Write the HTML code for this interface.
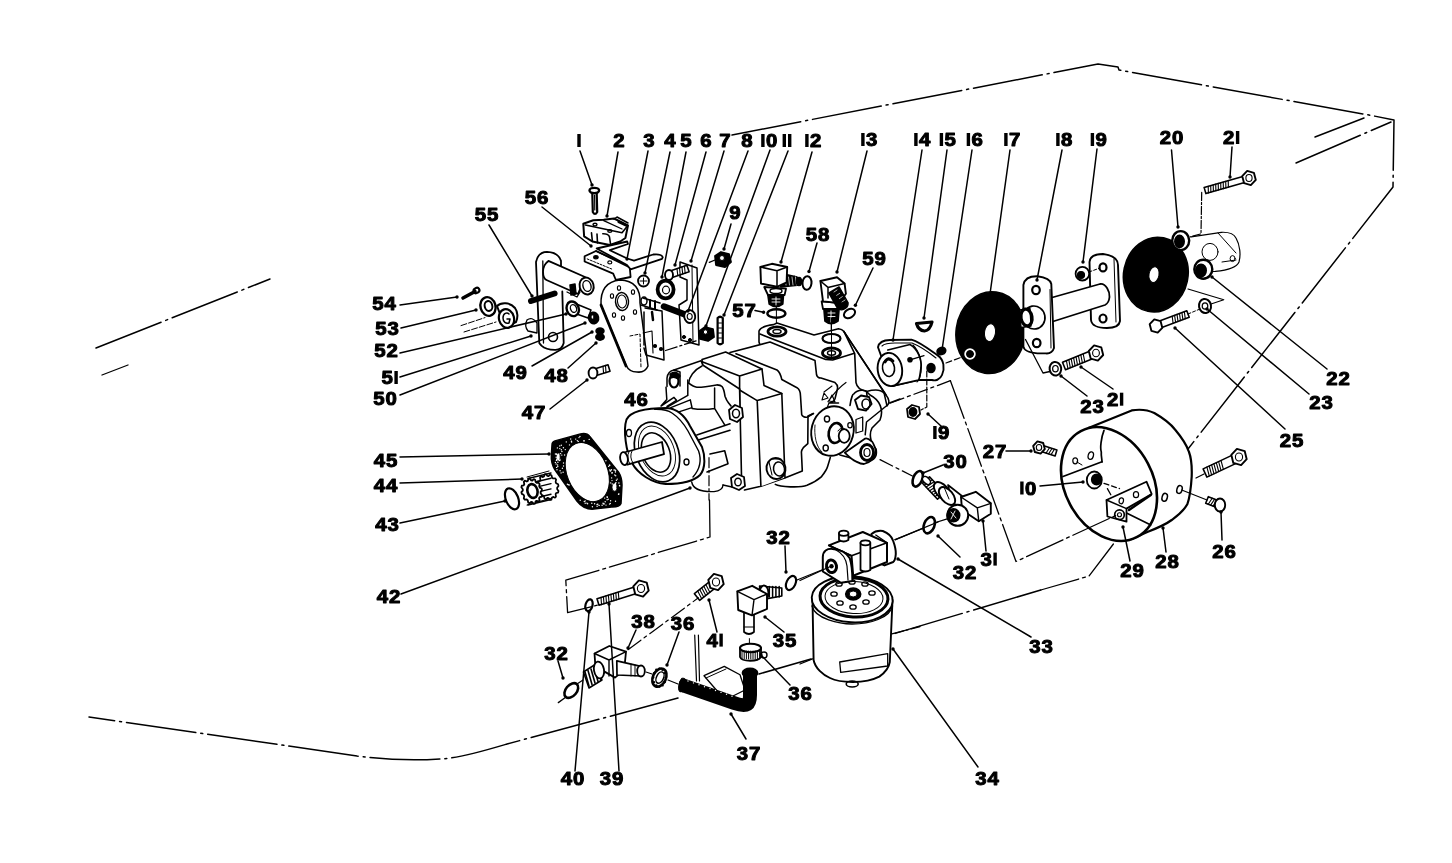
<!DOCTYPE html>
<html><head><meta charset="utf-8"><style>
html,body{margin:0;padding:0;background:#fff;overflow:hidden;}
svg{display:block;will-change:transform;}
text{font-family:"Liberation Sans",sans-serif;font-weight:bold;fill:#000;}
</style></head><body>
<svg width="1452" height="863" viewBox="0 0 1452 863">
<rect width="1452" height="863" fill="#fff"/>
<g stroke="#000" fill="none" stroke-linecap="round" stroke-linejoin="round">
<path d="M732,135 L1098,64 L1118,67 L1119,70 L1369,115 L1394,120 L1393,187 L1188,449" stroke-width="1.5" fill="none" stroke-dasharray="70 5 2 5"/>
<path d="M1040.8,590 L893,634" stroke-width="1.5" fill="none" stroke-dasharray="70 5 2 5"/>
<path d="M811,659 L759,674" stroke-width="1.5" fill="none" stroke-dasharray="70 5 2 5"/>
<path d="M678,698 L507,744 C480,752 460,758 440,759 C410,761 390,760 357,756 L89,717" stroke-width="1.5" fill="none" stroke-dasharray="70 5 2 5"/>
<path d="M96,348 L270,279" stroke-width="1.5" fill="none" stroke-dasharray="70 5 2 5"/>
<line x1="102" y1="375" x2="128" y2="365" stroke-width="1.3"/>
<path d="M1315,137 L1364,118" stroke-width="1.5" fill="none" stroke-dasharray="70 5 2 5"/>
<path d="M1296,163 L1391,122" stroke-width="1.5" fill="none" stroke-dasharray="70 5 2 5"/>
<path d="M592.3,193 L592.8,212 Q595,216 597.2,212 L596.7,193 Z" stroke-width="2.2" fill="#fff" />
<line x1="594.6" y1="195" x2="594.8" y2="210" stroke-width="1.2"/>
<ellipse cx="594.3" cy="190.5" rx="4.8" ry="2.6" transform="rotate(0 594.3 190.5)" stroke-width="2.4" fill="#fff"/>
<path d="M584.6,256.3 L596,251 L627.2,265 C629,266 630,267 629.8,268 L630.6,277 L615.9,280 L613.2,273.7 L584.6,261.5 Z" stroke-width="1.8" fill="#fff" />
<path d="M587.2,258.9 L612.4,269.3" stroke-width="1.0" fill="none" stroke-dasharray="2 1.5"/>
<path d="M596,251 L629.8,267.6" stroke-width="1.5" fill="none" />
<ellipse cx="595.9" cy="257.2" rx="2.2" ry="1.6" transform="rotate(0 595.9 257.2)" stroke-width="1.2" fill="#000"/>
<ellipse cx="609.8" cy="262.4" rx="2" ry="1.5" transform="rotate(0 609.8 262.4)" stroke-width="1.2" fill="none"/>
<path d="M596.7,248.5 L627.2,241.5 L628,244 L609.8,250.2 L627.2,258.5 L634,260.6 L653.2,254.5 C658,254 662,255 662.8,257.2 L662,258.9 L630.6,269.3 L627,265 Z" stroke-width="1.8" fill="#fff" />
<path d="M583.3,223.7 L593.3,220.2 L603.7,219.8 L614,218.5 L628,225.4 L625.4,238 L620.2,241.5 L609.8,245 L592.4,241.5 L584.1,236.3 Z" stroke-width="2.0" fill="#fff" />
<path d="M585.4,225 L622,232.8 L627.5,226" stroke-width="1.6" fill="none" />
<path d="M603.7,220.6 L622,229" stroke-width="1.3" fill="none" />
<path d="M591.5,232.8 L592.4,241.5 M597,234 L597.5,243 M602.8,233.7 C606,233.5 609,235 609.5,237 L610.6,244.5" stroke-width="1.6" fill="none" />
<path d="M614,219 L617,217 L628,223" stroke-width="1.5" fill="none" />
<path d="M618.5,222 L626,225.5" stroke-width="2.2" fill="none" />
<ellipse cx="595" cy="224.6" rx="2" ry="1.3" transform="rotate(0 595 224.6)" stroke-width="1.4" fill="none"/>
<ellipse cx="609.8" cy="231" rx="2" ry="1.3" transform="rotate(0 609.8 231)" stroke-width="1.4" fill="none"/>
<path d="M536,262 Q538,252 547,251.8 Q558,252 561,260.9 L561,268 M562.3,291.5 L563.7,343 Q562,350 555.3,349.9 Q546,350 541.4,345.7 Q539,343 539.3,343 L536,262" stroke-width="1.8" fill="#fff" />
<path d="M542.8,261 L543.5,343" stroke-width="1.3" fill="none" />
<ellipse cx="553" cy="337" rx="4.5" ry="4.5" transform="rotate(0 553 337)" stroke-width="1.6" fill="none"/>
<path d="M548.4,260.9 L585,277 L578,294 L547,280.3 C542,278 541,266 548.4,260.9 Z" stroke-width="1.8" fill="#fff" />
<ellipse cx="586.6" cy="286" rx="7" ry="8.5" transform="rotate(-15 586.6 286)" stroke-width="1.9" fill="#fff"/>
<ellipse cx="587" cy="286" rx="4" ry="5.5" transform="rotate(-15 587 286)" stroke-width="1.4" fill="none"/>
<path d="M570,285 L575,284 L576,294 L571,295 Z" stroke-width="1.5" fill="#000" />
<path d="M567,292 L577,297 L580,292" stroke-width="1.3" fill="none" />
<path d="M601,305 Q600,282 620,280 Q641,281 640,303 L648,366 Q645,373 637,372 Q629,372 626,365 Z" stroke-width="1.5" fill="none" />
<path d="M601,305 L626,366" stroke-width="2.8" fill="none" />
<ellipse cx="622" cy="301.5" rx="6.5" ry="9" transform="rotate(-5 622 301.5)" stroke-width="1.5" fill="none"/>
<ellipse cx="622" cy="301.5" rx="4.5" ry="6.5" transform="rotate(-5 622 301.5)" stroke-width="1.1" fill="none"/>
<ellipse cx="619" cy="288" rx="1.6" ry="2.3" transform="rotate(0 619 288)" stroke-width="1.1" fill="none"/>
<ellipse cx="633" cy="292" rx="1.6" ry="2.3" transform="rotate(0 633 292)" stroke-width="1.1" fill="none"/>
<ellipse cx="635" cy="312" rx="1.6" ry="2.3" transform="rotate(0 635 312)" stroke-width="1.1" fill="none"/>
<ellipse cx="612" cy="296" rx="1.6" ry="2.3" transform="rotate(0 612 296)" stroke-width="1.1" fill="none"/>
<ellipse cx="614" cy="315" rx="1.6" ry="2.3" transform="rotate(0 614 315)" stroke-width="1.1" fill="none"/>
<ellipse cx="623" cy="318" rx="1.6" ry="2.3" transform="rotate(0 623 318)" stroke-width="1.1" fill="none"/>
<path d="M630,336 L640,334 L641,368" stroke-width="1.0" fill="none" stroke-dasharray="3 2"/>
<path d="M645,308 L662,311 L664,360 L646,355 L644,348 M644,312 L644,345" stroke-width="1.5" fill="none" />
<path d="M652,312 L653,320" stroke-width="2.5" fill="none" />
<ellipse cx="661" cy="349" rx="1.5" ry="1.5" transform="rotate(0 661 349)" stroke-width="1.2" fill="#000"/>
<ellipse cx="655" cy="346" rx="1.5" ry="1.5" transform="rotate(0 655 346)" stroke-width="1.2" fill="#000"/>
<path d="M643,333 L652,331 L653,353" stroke-width="1.1" fill="none" />
<path d="M680,262 L697,268 L699,345 L681,340 L679,305 L687,300 L687,280 L680,277 Z" stroke-width="1.5" fill="none" />
<path d="M692,265 L693,343" stroke-width="1.0" fill="none" />
<ellipse cx="684" cy="337" rx="1.6" ry="1.6" transform="rotate(0 684 337)" stroke-width="1" fill="#000"/>
<ellipse cx="690" cy="340" rx="1.6" ry="1.6" transform="rotate(0 690 340)" stroke-width="1" fill="#000"/>
<ellipse cx="643.5" cy="281" rx="5.5" ry="5.5" transform="rotate(0 643.5 281)" stroke-width="1.8" fill="none"/>
<path d="M640,281 L647,281 M643.5,278 L643.5,284" stroke-width="1" fill="none" />
<ellipse cx="665.6" cy="289.5" rx="8" ry="8.8" transform="rotate(0 665.6 289.5)" stroke-width="3.8" fill="none"/>
<ellipse cx="666" cy="290" rx="3.5" ry="3.8" transform="rotate(0 666 290)" stroke-width="1.2" fill="none"/>
<path d="M686.9,265.2 L667.9,271.7 L670.1,278.3 L689.1,271.8 Z" stroke-width="1.6" fill="#fff"/>
<line x1="684.4" y1="266.0" x2="685.2" y2="273.2" stroke-width="1.1"/>
<line x1="681.9" y1="266.9" x2="682.7" y2="274.0" stroke-width="1.1"/>
<line x1="679.5" y1="267.7" x2="680.2" y2="274.9" stroke-width="1.1"/>
<line x1="677.0" y1="268.6" x2="677.8" y2="275.7" stroke-width="1.1"/>
<ellipse cx="669.0" cy="275.0" rx="4.0" ry="5.0" stroke-width="1.9" fill="#fff"/>
<path d="M643,298 L660,303 M641,305 L657,310" stroke-width="1.5" fill="none" />
<ellipse cx="644" cy="301" rx="3" ry="4" transform="rotate(0 644 301)" stroke-width="1.5" fill="none"/>
<path d="M650,300 L650,307 M655,301 L655,309" stroke-width="2" fill="none" />
<path d="M664,306.5 L685,314.5" stroke-width="6.5" fill="none" />
<ellipse cx="689.7" cy="316.5" rx="5.5" ry="6.5" transform="rotate(-10 689.7 316.5)" stroke-width="1.9" fill="#fff"/>
<ellipse cx="689.7" cy="316.5" rx="2.5" ry="3" transform="rotate(0 689.7 316.5)" stroke-width="1.1" fill="none"/>
<path d="M715,256 L721,252 L729,254 L731,262 L725,267 L716,265 Z" stroke-width="1.8" fill="#000" />
<ellipse cx="722" cy="258" rx="2.5" ry="2.5" transform="rotate(0 722 258)" stroke-width="1" fill="#fff"/>
<path d="M709.3,262.4 L715,260" stroke-width="1.2" fill="none" />
<path d="M699.5,331 L705,327 L713,329 L714,337 L708,341 L700,339 Z" stroke-width="1.8" fill="#000" />
<ellipse cx="705.5" cy="332" rx="2.2" ry="2.2" transform="rotate(0 705.5 332)" stroke-width="1" fill="#fff"/>
<path d="M717.6,318 L717.6,343 Q720,345.5 722.8,343 L722.8,318 Q720,315.5 717.6,318 Z" stroke-width="2.2" fill="#fff" />
<line x1="718.5" y1="323" x2="721.5" y2="323" stroke-width="1.0"/>
<line x1="718.5" y1="328" x2="721.5" y2="328" stroke-width="1.0"/>
<line x1="718.5" y1="333" x2="721.5" y2="333" stroke-width="1.0"/>
<line x1="718.5" y1="338" x2="721.5" y2="338" stroke-width="1.0"/>
<path d="M531,301 L554.6,293.5" stroke-width="6" fill="none" />
<path d="M463,298 L475,291.5" stroke-width="3.6" fill="none" />
<ellipse cx="476.5" cy="290.5" rx="3" ry="2.5" transform="rotate(-30 476.5 290.5)" stroke-width="2.2" fill="none"/>
<ellipse cx="488" cy="306.5" rx="7.5" ry="9.5" transform="rotate(-15 488 306.5)" stroke-width="2.4" fill="#fff"/>
<ellipse cx="488.5" cy="306" rx="3.8" ry="5" transform="rotate(-15 488.5 306)" stroke-width="2.0" fill="none"/>
<path d="M497,306 C501,302 510,302 515,308 C518,312 518,318 516,322 L505,327 Z" stroke-width="2.0" fill="#fff" />
<ellipse cx="506.5" cy="318.5" rx="7.5" ry="9.5" transform="rotate(-15 506.5 318.5)" stroke-width="2.2" fill="#fff"/>
<path d="M503,318 C503,313 507,312 509,314 M503,318 C503,322 506,324 509,323 L510,319 L507,319" stroke-width="1.5" fill="none" />
<path d="M461,325.6 L485,317.6 M464,332 L496,322" stroke-width="1.0" fill="none" stroke-dasharray="6 2"/>
<path d="M574,303 L591,310 L588,318 L571,312 Z" stroke-width="1.5" fill="#fff" />
<ellipse cx="572.7" cy="308.8" rx="6" ry="7.5" transform="rotate(-20 572.7 308.8)" stroke-width="2.4" fill="#fff"/>
<ellipse cx="573.5" cy="308.5" rx="3" ry="4" transform="rotate(-20 573.5 308.5)" stroke-width="1.3" fill="none"/>
<ellipse cx="593.6" cy="318" rx="5" ry="5.8" transform="rotate(-10 593.6 318)" stroke-width="1.5" fill="#000"/>
<ellipse cx="592.5" cy="317" rx="1.5" ry="2" transform="rotate(0 592.5 317)" stroke-width="1" fill="#fff"/>
<ellipse cx="600" cy="331" rx="4" ry="3" transform="rotate(0 600 331)" stroke-width="1.5" fill="#000"/>
<ellipse cx="600" cy="337" rx="4.2" ry="3.2" transform="rotate(0 600 337)" stroke-width="1.5" fill="#000"/>
<path d="M527,320 Q532,316 537,323 L537,333 L528,331 Q524,326 527,320" stroke-width="1.3" fill="none" />
<path d="M608.0,364.7 L592.0,369.7 L594.0,376.3 L610.0,371.3 Z" stroke-width="1.6" fill="#fff"/>
<line x1="605.5" y1="365.4" x2="606.0" y2="372.6" stroke-width="1.1"/>
<line x1="603.0" y1="366.2" x2="603.6" y2="373.4" stroke-width="1.1"/>
<ellipse cx="593.0" cy="373.0" rx="4.4" ry="5.5" stroke-width="1.9" fill="#fff"/>
<line x1="776.4" y1="305" x2="776.4" y2="328" stroke-width="1.0"/>
<line x1="831.2" y1="321" x2="831.2" y2="340" stroke-width="1.0"/>
<path d="M768,295 L783.4,295 L782.7,304 Q776,309 769.3,304 Z" stroke-width="1.8" fill="#000" />
<path d="M772,299 L780,299 M772,302 L780,302 M776,297 L776,305" stroke-width="0.9" fill="none" stroke="#fff"/>
<path d="M764.2,287 L786,288.7 L784.6,295 L768,295 Z" stroke-width="1.8" fill="#fff" />
<ellipse cx="776" cy="291" rx="6" ry="2.5" transform="rotate(0 776 291)" stroke-width="1.4" fill="none"/>
<path d="M779.5,273 L797,277 L800,285 L780.8,287 Z" stroke-width="1.6" fill="#000" />
<line x1="784.0" y1="276" x2="785.0" y2="285" stroke-width="0.8"/>
<line x1="787.5" y1="276" x2="788.5" y2="285" stroke-width="0.8"/>
<line x1="791.0" y1="276" x2="792.0" y2="285" stroke-width="0.8"/>
<line x1="794.5" y1="276" x2="795.5" y2="285" stroke-width="0.8"/>
<g stroke="#fff">
<line x1="785.0" y1="277" x2="786.0" y2="285" stroke-width="0.7"/>
<line x1="788.5" y1="277" x2="789.5" y2="285" stroke-width="0.7"/>
<line x1="792.0" y1="277" x2="793.0" y2="285" stroke-width="0.7"/>
<line x1="795.5" y1="277" x2="796.5" y2="285" stroke-width="0.7"/>
</g>
<ellipse cx="799" cy="281.5" rx="2.5" ry="4" transform="rotate(0 799 281.5)" stroke-width="1.5" fill="#000"/>
<path d="M760.4,267 L771.9,263.8 L787.2,267 L786.6,282.3 L777,286.8 L761,283.6 Z" stroke-width="1.9" fill="#fff" />
<path d="M760.4,267 L777,270.8 L787.2,267 M777,270.8 L777,286.8" stroke-width="1.5" fill="none" />
<ellipse cx="807" cy="283" rx="4.5" ry="6.8" transform="rotate(5 807 283)" stroke-width="2.0" fill="none"/>
<ellipse cx="776.4" cy="313.5" rx="9" ry="4.3" transform="rotate(0 776.4 313.5)" stroke-width="2.4" fill="none"/>
<path d="M824,309 L839,309 L838,321 Q831,326 825,321 Z" stroke-width="1.8" fill="#000" />
<path d="M828,313 L835,313 M828,316.5 L835,316.5 M831,311 L831,322" stroke-width="0.9" fill="none" stroke="#fff"/>
<path d="M821.6,301.4 L841,303 L840,309 L823,309 Z" stroke-width="1.8" fill="#fff" />
<path d="M820.4,281 L837,277.2 L844.6,283.6 L845.9,293.8 L839,303 L823,301.4 Z" stroke-width="1.9" fill="#fff" />
<path d="M820.4,281 L828,287.4 L844.6,283.6 M828,287.4 L828,298" stroke-width="1.5" fill="none" />
<path d="M829,293 L839,287 L848,303 L838,309 Z" stroke-width="1.6" fill="#000" />
<g stroke="#fff">
<line x1="834.0" y1="292.0" x2="837.0" y2="290.0" stroke-width="0.7"/>
<line x1="836.6666666666666" y1="295.3333333333333" x2="839.6666666666666" y2="293.3333333333333" stroke-width="0.7"/>
<line x1="839.3333333333334" y1="298.6666666666667" x2="842.3333333333334" y2="296.6666666666667" stroke-width="0.7"/>
<line x1="842.0" y1="302.0" x2="845.0" y2="300.0" stroke-width="0.7"/>
</g>
<ellipse cx="843.5" cy="306" rx="5" ry="3" transform="rotate(-35 843.5 306)" stroke-width="1.6" fill="#000"/>
<ellipse cx="849.5" cy="313.5" rx="6" ry="4.2" transform="rotate(-30 849.5 313.5)" stroke-width="2.0" fill="none"/>
<path d="M665.6,350.5 L698.7,340" stroke-width="1.3" fill="none" stroke-dasharray="12 3 2 3"/>
<path d="M759,342 L759,331 Q761,326 773.6,324.6 L777,323 L814,335 L838.5,328.7 Q842,329 844,331.6 L854.7,353.6 L856,382.6 C857,388 860,390 866,391 L870,395 C880,400 884,410 880,420 L872,428 C868,436 872,445 876,449 C878,458 872,463 862,461 L840,455 L800,420 L760,345 Z" stroke-width="1.6" fill="#fff" />
<path d="M760,334 L825.7,359.4 L832.7,360 L853.6,353.6" stroke-width="1.6" fill="none" />
<ellipse cx="777" cy="331.5" rx="9" ry="4.6" transform="rotate(0 777 331.5)" stroke-width="2.8" fill="none"/>
<ellipse cx="777" cy="331.5" rx="4" ry="2" transform="rotate(0 777 331.5)" stroke-width="1.5" fill="none"/>
<ellipse cx="831.5" cy="338.5" rx="9" ry="4.5" transform="rotate(0 831.5 338.5)" stroke-width="2.2" fill="none"/>
<ellipse cx="831.5" cy="353" rx="9" ry="5" transform="rotate(0 831.5 353)" stroke-width="2.8" fill="none"/>
<ellipse cx="831.5" cy="353" rx="4" ry="2.2" transform="rotate(0 831.5 353)" stroke-width="1.5" fill="none"/>
<line x1="831.5" y1="318" x2="831.5" y2="358" stroke-width="1.0"/>
<path d="M844,331.6 L886,395" stroke-width="1.6" fill="none" />
<path d="M730,352.6 L770,342 L815,360.6 L816.5,374.5 C817,377 819,378 821,378 L835,382.6 C838,385 838,387 837.3,389.5 L835,398.8 C833,402 831,403 829,403 L838.5,403 L830.3,457.4 C828,467 822,477 807,485.3 C800,487 790,488 775,484.4 L760.9,486.3 L744.5,490 L742,476 L740,390 Z" stroke-width="0" fill="#fff" stroke="none"/>
<path d="M730,352.6 L770,342 L815,360.6 L816.5,374.5 C817,377 819,378 821,378 L835,382.6 C838,385 838,387 837.3,389.5 L835,398.8 C833,402 831,403 829,403 L838.5,403" stroke-width="1.6" fill="none" />
<path d="M736,353.7 L777,370 C780,372 781,376 781.8,379.5 L797,387.7 C799,389 800.5,392 800.5,396 L801.7,414.6 C802,416 805,418 807.5,417 L813.4,413.5" stroke-width="1.6" fill="none" />
<path d="M813.4,413.5 L808,416 L807.8,443.7 L803.3,447.7 C801.5,450 801.4,452 801.4,452 L802.3,470.9 L786,477.6 L760.9,486.3 L744.5,490" stroke-width="1.6" fill="none" />
<path d="M775.3,484.4 C780,487 800,488 807,485.3 C815,482 820,478 821.6,476.6 C825,472 827,469 827.4,467 C829,462 830,459 830.3,457.4" stroke-width="1.6" fill="none" />
<path d="M829,403 C826,410 824,418 821,420" stroke-width="1.2" fill="none" />
<path d="M824,393 L828,398 L822,400 Z M824,392 L832,386" stroke-width="1.1" fill="none" />
<path d="M702,359.6 L725.6,352 L762,369 L764,385.4 L781.8,393.5 L785,477.6 L760.9,486.3 L740.6,476 L739.6,390 L702.7,365 Z" stroke-width="0" fill="#fff" stroke="none"/>
<path d="M702.7,365 L702,359.6 L725.6,352 L762,369 L764,385.4 L781.8,393.5 L785,477.6 M739.6,390 L740.6,476" stroke-width="1.6" fill="none" />
<path d="M702.7,362 L739.6,376 L762,369 M739.6,376 L739.6,389 M739.6,390 L757.2,400.6 L781.8,393.5 M757.2,400.6 L760.9,486.3" stroke-width="1.6" fill="none" />
<path d="M674,370 L701,360.8 L702.7,365 L739.6,389 L742,476 L737,490 L700,495 L662,485 L662,398 L668,386 Z" stroke-width="0" fill="#fff" stroke="none"/>
<path d="M674,370 L701,360.8 L702.7,365 L739.6,389" stroke-width="1.5" fill="none" />
<path d="M723,485 L732,487" stroke-width="1.4" fill="none" />
<path d="M739.6,389 L741.5,476" stroke-width="1.6" fill="none" />
<path d="M688.7,383.2 C691,385 694,387 696.8,387.3 C703,387.5 711,386 717,384.9 C719,385 721,385.5 722,386.5 C724,389 724.5,393 725,396.2 C726,399 727,401 728.4,402.7 L731,406" stroke-width="1.6" fill="none" />
<path d="M688.7,383.2 C689,377 694,370 702,366" stroke-width="1.5" fill="none" />
<path d="M687.8,380 L687.8,395.4 L667.6,406.8" stroke-width="1.5" fill="none" />
<path d="M692,408.4 C699,409.5 707,409.5 714.6,408.4 L714.6,388 M714.6,408.4 L725,425.4" stroke-width="1.5" fill="none" />
<path d="M666,387.3 L666.8,399.5 L661,406 L674,397.4 L676.5,400.3 L667,406.5" stroke-width="1.5" fill="#fff" />
<path d="M670.8,407.6 L690.3,399.9 L692,407.6 L677.3,412.4 Z" stroke-width="1.5" fill="#fff" />
<path d="M667,386.5 L667,378 Q668,371 674,370 L680,372 L680,386" stroke-width="1.5" fill="#fff" />
<ellipse cx="674" cy="381" rx="4.5" ry="6.5" transform="rotate(0 674 381)" stroke-width="2.2" fill="#fff"/>
<path d="M670,374 Q676,370 680,376 L678,379 Q674,376 671,378 Z" stroke-width="1.5" fill="#000" />
<path d="M696.8,435 L730,423.8 M698.4,440 L730,430.3 M710,454 L724.7,450.8 L728,463.8 L707,471.9" stroke-width="1.6" fill="none" />
<path d="M709,457.7 L709,500" stroke-width="1.2" fill="none" stroke-dasharray="10 3 2 3"/>
<path d="M691.7,482 C693,489 702,492 714,491.6 C720,491 723,488 723,485" stroke-width="1.4" fill="none" />
<path d="M729,410 L735,405 L742,408 L743,417 L737,422 L730,419 Z" stroke-width="1.8" fill="#fff" />
<ellipse cx="736" cy="413.5" rx="3.5" ry="4.2" transform="rotate(0 736 413.5)" stroke-width="1.5" fill="none"/>
<path d="M731,478 L737,474 L744,477 L745,486 L739,490 L732,487 Z" stroke-width="1.8" fill="#fff" />
<ellipse cx="738" cy="482" rx="3.2" ry="3.8" transform="rotate(0 738 482)" stroke-width="1.4" fill="none"/>
<ellipse cx="776" cy="468.5" rx="9.5" ry="10.5" transform="rotate(-10 776 468.5)" stroke-width="1.9" fill="#fff"/>
<path d="M769,462 L772,475 M773,459 L781,459" stroke-width="1.1" fill="none" />
<ellipse cx="779" cy="469" rx="5.5" ry="7" transform="rotate(-10 779 469)" stroke-width="1.5" fill="none"/>
<path d="M626.5,419.5 C630,412 645,408 667,408 C678,409 685,416 690,426 L702,447 C705,455 706,468 700,475 C694,481 680,484 665.6,484 C652,483 638,474 632,463 C626,452 623,430 626.5,419.5 Z" stroke-width="2.0" fill="#fff" />
<path d="M654.6,409.2 C662,409 668,410 672,413 C678,417 684,424 688,431 L698.6,451 C701,458 701,468 693,477" stroke-width="1.4" fill="none" />
<ellipse cx="657" cy="452" rx="21" ry="31" transform="rotate(-22 657 452)" stroke-width="1.7" fill="none"/>
<ellipse cx="657" cy="451" rx="17" ry="26" transform="rotate(-22 657 451)" stroke-width="0.9" fill="none"/>
<ellipse cx="656" cy="452.5" rx="13.5" ry="20.5" transform="rotate(-22 656 452.5)" stroke-width="1.6" fill="none"/>
<ellipse cx="686.5" cy="462" rx="2.5" ry="3" transform="rotate(0 686.5 462)" stroke-width="1.4" fill="none"/>
<ellipse cx="629" cy="433" rx="2.5" ry="3.5" transform="rotate(0 629 433)" stroke-width="1.3" fill="none"/>
<path d="M624,452.5 L662,442 L664,454.2 L627.4,464.7 Z" stroke-width="1.8" fill="#fff" />
<ellipse cx="624" cy="458.6" rx="3.8" ry="6.5" transform="rotate(-10 624 458.6)" stroke-width="1.8" fill="#fff"/>
<path d="M629,451.5 Q626,458 630,464 M632,451 Q629,457 633,463" stroke-width="1.0" fill="none" />
<path d="M866.5,391.5 C880,388 884,392 884.3,394 L886.9,405.5 L866.5,422 L865.2,434.8" stroke-width="1.5" fill="none" />
<path d="M850,405.5 C851,398 853,394 853.7,394 C856,391 859,390 862.7,390.2 L866.5,391.5 C868,400 868,405 867.8,409.3" stroke-width="1.6" fill="#fff" />
<path d="M844.8,452.7 C848,456 852,460 856.3,461.6 C859,463 862,464 864,464 C868,463 871,461 872.9,459 C875,455 876,451 875.4,448.8 C874,445 873,442 871.6,441.2 C869,439 867,438 865.2,438.6 Z" stroke-width="1.8" fill="#fff" />
<ellipse cx="832.5" cy="431" rx="21" ry="25" transform="rotate(15 832.5 431)" stroke-width="1.9" fill="#fff"/>
<path d="M815,425 C814,435 816,447 822,452" stroke-width="0.9" fill="none" />
<ellipse cx="835.7" cy="433" rx="7" ry="10" transform="rotate(10 835.7 433)" stroke-width="2.6" fill="#fff"/>
<ellipse cx="844.2" cy="436" rx="5.5" ry="6.8" transform="rotate(0 844.2 436)" stroke-width="1.8" fill="#fff"/>
<path d="M838,431 C840,427 845,428 847,431" stroke-width="1.0" fill="none" />
<ellipse cx="827" cy="419" rx="2.6" ry="3" transform="rotate(0 827 419)" stroke-width="1.4" fill="none"/>
<ellipse cx="825.7" cy="448" rx="2.6" ry="3" transform="rotate(0 825.7 448)" stroke-width="1.4" fill="none"/>
<ellipse cx="850" cy="425.3" rx="2.2" ry="2.6" transform="rotate(0 850 425.3)" stroke-width="1.3" fill="none"/>
<path d="M856,419.5 L862.7,417 L862.7,431 L856,433 Z" stroke-width="1.3" fill="#fff" />
<path d="M855,400 L861,395.5 L869,397 L871.6,404 L866,410.6 L858,409 Z" stroke-width="1.9" fill="#fff" />
<ellipse cx="866" cy="404" rx="4" ry="5" transform="rotate(0 866 404)" stroke-width="1.6" fill="none"/>
<ellipse cx="867" cy="452.5" rx="6.5" ry="8" transform="rotate(0 867 452.5)" stroke-width="2.8" fill="#fff"/>
<ellipse cx="867" cy="452.5" rx="3" ry="4" transform="rotate(0 867 452.5)" stroke-width="1.2" fill="none"/>
<path d="M828,401.7 C832,396 838,388 846,382.5 M832,395 L829,401 L835,402 Z" stroke-width="1.2" fill="none" />
<path d="M889.4,403 L900,399" stroke-width="1.4" fill="none" />
<path d="M890.6,403 L950.4,380.7" stroke-width="1.3" fill="none" stroke-dasharray="14 4 3 4"/>
<path d="M844,331.6 L886,395 C890,400 889,404 887,406" stroke-width="1.5" fill="none" />
<path d="M878,347.3 C879,342 884,340 890,340 L911.5,339.6 C920,342 930,350 938,355.6 C944,360 945,368 942,375 C940,380 935,381 932,380 L918.4,380 L892,386 Z" stroke-width="1.9" fill="#fff" />
<path d="M882,346 C885,343 890,343 895,343 L912,343 C922,347 931,354 936,358" stroke-width="1.1" fill="none" />
<path d="M887.8,350 L910,344.5 C918,349 922,360 921,368 C920,374 919.8,379 918.4,380 L892,386.2" stroke-width="1.7" fill="#fff" />
<ellipse cx="889.9" cy="369.5" rx="12.2" ry="16.7" transform="rotate(-8 889.9 369.5)" stroke-width="1.9" fill="#fff"/>
<ellipse cx="888.5" cy="368" rx="6" ry="8.5" transform="rotate(-8 888.5 368)" stroke-width="1.6" fill="none"/>
<path d="M885,362 Q888,356 893,361" stroke-width="2.8" fill="none" />
<path d="M913,345 C920,352 922,363 921,372 C920,378 919,381 917,382" stroke-width="1.1" fill="none" />
<circle cx="910" cy="359.8" r="2.8" fill="#000" stroke="none"/>
<line x1="910" y1="359.8" x2="924" y2="355.6" stroke-width="1.3"/>
<ellipse cx="931" cy="368" rx="4" ry="4.5" transform="rotate(0 931 368)" stroke-width="1.5" fill="#000"/>
<path d="M916.5,323.5 L932,322 Q930,330.5 924.5,331 Q918.5,330.5 916.5,323.5 Z" stroke-width="3.2" fill="none" />
<path d="M921,326 L928,325.5" stroke-width="1.2" fill="none" stroke="#fff"/>
<ellipse cx="941.4" cy="351" rx="4.5" ry="3.5" transform="rotate(-20 941.4 351)" stroke-width="1.5" fill="#000"/>
<path d="M926.8,371 L926.8,407 L921,410" stroke-width="1.2" fill="none" stroke-dasharray="6 2"/>
<path d="M907,409 L912,405 L919,407 L920,414 L915,419 L908,417 Z" stroke-width="1.8" fill="#fff" />
<ellipse cx="913" cy="412" rx="3.5" ry="4" transform="rotate(0 913 412)" stroke-width="1.8" fill="#000"/>
<path d="M946,363 L965.7,355.6" stroke-width="1.2" fill="none" stroke-dasharray="6 3"/>
<ellipse cx="990.5" cy="332.6" rx="34.5" ry="41" transform="rotate(8 990.5 332.6)" stroke-width="1.5" fill="#000"/>
<ellipse cx="990" cy="332.6" rx="5.5" ry="9" transform="rotate(8 990 332.6)" stroke-width="1" fill="#fff"/>
<ellipse cx="970" cy="354" rx="6.5" ry="6.5" transform="rotate(0 970 354)" stroke-width="1.5" fill="#fff"/>
<ellipse cx="970" cy="354" rx="3.5" ry="3.5" transform="rotate(0 970 354)" stroke-width="1" fill="#000"/>
<path d="M1089.5,262 Q1090,254 1103,254 Q1118,256 1118,265 L1120,321 Q1119,328 1107,328 Q1092,328 1091,320 Z" stroke-width="1.9" fill="#fff" />
<path d="M1114,259 L1116,322" stroke-width="1.0" fill="none" />
<ellipse cx="1103" cy="267.4" rx="3.5" ry="4" transform="rotate(0 1103 267.4)" stroke-width="2.2" fill="none"/>
<ellipse cx="1103" cy="318.5" rx="3.5" ry="4" transform="rotate(0 1103 318.5)" stroke-width="2.2" fill="none"/>
<ellipse cx="1082.4" cy="273.7" rx="6.8" ry="6.8" transform="rotate(0 1082.4 273.7)" stroke-width="1.8" fill="#fff"/>
<ellipse cx="1081" cy="275" rx="3.5" ry="3.5" transform="rotate(0 1081 275)" stroke-width="1.2" fill="#000"/>
<path d="M1089,272 L1100,268" stroke-width="1.0" fill="none" stroke-dasharray="3 2"/>
<path d="M1045,299.5 L1100,284 C1106,283 1110,292 1109.5,297 C1109,302 1107,304 1105,305 L1045,324 Z" stroke-width="1.8" fill="#fff" />
<path d="M1023.4,346.5 L1023.4,285 Q1025,276 1037.4,276.3 Q1050,278 1051.3,284 L1054,348 Q1052,354 1045.7,353.4 L1037.4,353.4 Q1024,352 1023.4,346.5 Z" stroke-width="1.9" fill="#fff" />
<path d="M1050,289.5 L1051,348" stroke-width="1.0" fill="none" />
<ellipse cx="1036" cy="290" rx="3.8" ry="4.2" transform="rotate(0 1036 290)" stroke-width="2.2" fill="none"/>
<ellipse cx="1036.7" cy="343" rx="3.8" ry="4.2" transform="rotate(0 1036.7 343)" stroke-width="2.2" fill="none"/>
<ellipse cx="1034" cy="317.5" rx="11" ry="11.5" transform="rotate(-10 1034 317.5)" stroke-width="1.7" fill="#fff"/>
<path d="M1020,310 L1030,308.5 L1031,326 L1021,327.5 Z" stroke-width="1.3" fill="#fff" />
<ellipse cx="1026.5" cy="317.5" rx="5.5" ry="8.5" transform="rotate(-10 1026.5 317.5)" stroke-width="3.2" fill="none"/>
<path d="M1025.5,339.5 L1043,373 L1050,371.5" stroke-width="1.3" fill="none" />
<ellipse cx="1055.4" cy="368.7" rx="5.8" ry="6.8" transform="rotate(-10 1055.4 368.7)" stroke-width="2.0" fill="#fff"/>
<ellipse cx="1055.4" cy="368.7" rx="2.8" ry="3.2" transform="rotate(0 1055.4 368.7)" stroke-width="1.2" fill="none"/>
<path d="M1065.5,369.7 L1097.5,356.7 L1094.5,349.3 L1062.5,362.3 Z" stroke-width="1.6" fill="#fff"/>
<line x1="1067.9" y1="368.7" x2="1066.4" y2="360.7" stroke-width="1.1"/>
<line x1="1070.3" y1="367.7" x2="1068.8" y2="359.7" stroke-width="1.1"/>
<line x1="1072.7" y1="366.8" x2="1071.2" y2="358.8" stroke-width="1.1"/>
<line x1="1075.1" y1="365.8" x2="1073.6" y2="357.8" stroke-width="1.1"/>
<line x1="1077.5" y1="364.8" x2="1076.0" y2="356.8" stroke-width="1.1"/>
<line x1="1080.0" y1="363.8" x2="1078.4" y2="355.8" stroke-width="1.1"/>
<line x1="1082.4" y1="362.9" x2="1080.8" y2="354.8" stroke-width="1.1"/>
<line x1="1084.8" y1="361.9" x2="1083.2" y2="353.9" stroke-width="1.1"/>
<path d="M1103.2,355.0 L1097.9,360.6 L1090.7,358.6 L1088.8,351.0 L1094.1,345.4 L1101.3,347.4 Z" stroke-width="1.9" fill="#fff"/>
<ellipse cx="1096.0" cy="353.0" rx="3.4" ry="3.8" stroke-width="1.1" fill="none"/>
<path d="M1205.9,193.6 L1249.9,181.1 L1248.1,174.9 L1204.1,187.4 Z" stroke-width="1.6" fill="#fff"/>
<line x1="1208.4" y1="192.9" x2="1208.2" y2="186.2" stroke-width="1.1"/>
<line x1="1210.9" y1="192.2" x2="1210.7" y2="185.5" stroke-width="1.1"/>
<line x1="1213.4" y1="191.5" x2="1213.2" y2="184.8" stroke-width="1.1"/>
<line x1="1215.9" y1="190.8" x2="1215.7" y2="184.1" stroke-width="1.1"/>
<line x1="1218.4" y1="190.1" x2="1218.2" y2="183.4" stroke-width="1.1"/>
<line x1="1220.9" y1="189.4" x2="1220.7" y2="182.7" stroke-width="1.1"/>
<line x1="1223.4" y1="188.7" x2="1223.2" y2="182.0" stroke-width="1.1"/>
<line x1="1225.9" y1="187.9" x2="1225.7" y2="181.3" stroke-width="1.1"/>
<line x1="1228.4" y1="187.2" x2="1228.2" y2="180.5" stroke-width="1.1"/>
<path d="M1255.8,179.9 L1250.8,185.1 L1244.1,183.2 L1242.2,176.1 L1247.2,170.9 L1253.9,172.8 Z" stroke-width="1.9" fill="#fff"/>
<ellipse cx="1249.0" cy="178.0" rx="3.1" ry="3.5" stroke-width="1.1" fill="none"/>
<path d="M1201.7,192.4 L1201,233.8 L1190.5,236.8" stroke-width="1.2" fill="none" stroke-dasharray="8 2 2 2"/>
<path d="M1191.2,236.8 L1221.3,232.3 C1228,232 1234,234 1236,238 C1240,245 1241,255 1239,262 C1237,267 1230,270 1215.3,271.4 L1200,272" stroke-width="1.2" fill="none" />
<path d="M1218,233 L1236,253 M1222,262 L1236,260" stroke-width="1.0" fill="none" />
<ellipse cx="1210" cy="251.9" rx="8" ry="8.5" transform="rotate(0 1210 251.9)" stroke-width="1.0" fill="none"/>
<ellipse cx="1232.6" cy="258.6" rx="2.5" ry="3" transform="rotate(0 1232.6 258.6)" stroke-width="1.0" fill="none"/>
<ellipse cx="1155.8" cy="274.6" rx="32.2" ry="37.6" transform="rotate(12 1155.8 274.6)" stroke-width="1.5" fill="#000"/>
<ellipse cx="1154" cy="274.6" rx="5" ry="8" transform="rotate(10 1154 274.6)" stroke-width="1" fill="#fff"/>
<ellipse cx="1180.7" cy="240.6" rx="8.5" ry="9.5" transform="rotate(0 1180.7 240.6)" stroke-width="2.4" fill="#fff"/>
<ellipse cx="1179.5" cy="241.5" rx="4.5" ry="6" transform="rotate(0 1179.5 241.5)" stroke-width="2.0" fill="#000"/>
<ellipse cx="1203.3" cy="269.2" rx="9" ry="9.5" transform="rotate(0 1203.3 269.2)" stroke-width="2.4" fill="#fff"/>
<ellipse cx="1201" cy="270.5" rx="5" ry="6" transform="rotate(0 1201 270.5)" stroke-width="2.0" fill="#000"/>
<path d="M1188,289 L1223.8,299.7 L1211,304" stroke-width="1.2" fill="none" />
<ellipse cx="1205" cy="306" rx="6" ry="7" transform="rotate(-10 1205 306)" stroke-width="2.0" fill="#fff"/>
<ellipse cx="1205" cy="306" rx="2.8" ry="3.2" transform="rotate(0 1205 306)" stroke-width="1.2" fill="none"/>
<path d="M1186.8,310.7 L1154.8,322.7 L1157.2,329.3 L1189.2,317.3 Z" stroke-width="1.6" fill="#fff"/>
<line x1="1184.3" y1="311.6" x2="1185.3" y2="318.8" stroke-width="1.1"/>
<line x1="1181.9" y1="312.5" x2="1182.9" y2="319.7" stroke-width="1.1"/>
<line x1="1179.5" y1="313.5" x2="1180.4" y2="320.6" stroke-width="1.1"/>
<line x1="1177.0" y1="314.4" x2="1178.0" y2="321.5" stroke-width="1.1"/>
<line x1="1174.6" y1="315.3" x2="1175.6" y2="322.4" stroke-width="1.1"/>
<line x1="1172.2" y1="316.2" x2="1173.1" y2="323.3" stroke-width="1.1"/>
<path d="M1162.3,327.8 L1157.7,332.6 L1151.4,330.8 L1149.7,324.2 L1154.3,319.4 L1160.6,321.2 Z" stroke-width="1.9" fill="#fff"/>
<path d="M1188,314 L1200,309" stroke-width="1.0" fill="none" stroke-dasharray="3 2"/>
<path d="M1089,427.8 L1131.7,410.4 C1140,409 1148,410 1154.3,413 C1163,418 1170,423 1175,429.5 C1183,439 1187,446 1189,452 C1192,460 1192,468 1191.7,476.5 C1191,488 1190,497 1187.3,504.3 C1183,512 1177,516 1171.7,520 C1165,525 1155,529 1147.3,532 L1131.7,539" stroke-width="2.2" fill="#fff" />
<ellipse cx="1109" cy="484" rx="44" ry="60" transform="rotate(-28 1109 484)" stroke-width="2.6" fill="#fff"/>
<path d="M1104,430.4 C1101,438 1100,448 1101.3,452 C1101,456 1102,459 1102,462" stroke-width="1.7" fill="none" />
<path d="M1126.5,513 L1150.8,525" stroke-width="1.6" fill="none" />
<path d="M1063,476.5 L1102,461.7" stroke-width="1.7" fill="none" />
<ellipse cx="1075.2" cy="460.8" rx="2.4" ry="3" transform="rotate(0 1075.2 460.8)" stroke-width="1.2" fill="none"/>
<ellipse cx="1090.8" cy="455.6" rx="2.6" ry="3.8" transform="rotate(15 1090.8 455.6)" stroke-width="1.3" fill="none"/>
<path d="M1077,462 L1082,465" stroke-width="1" fill="none" />
<ellipse cx="1094.3" cy="480" rx="7.5" ry="8.5" transform="rotate(0 1094.3 480)" stroke-width="1.8" fill="#fff"/>
<ellipse cx="1096.5" cy="479.5" rx="4.5" ry="5" transform="rotate(0 1096.5 479.5)" stroke-width="2.2" fill="#000"/>
<path d="M1104,483.4 L1119.5,488.6" stroke-width="1.3" fill="none" stroke-dasharray="5 3"/>
<path d="M1107.4,488.6 L1110.8,494.7" stroke-width="1.3" fill="none" />
<path d="M1106.5,500 L1146.5,481.7 L1151.7,494 L1126.5,508.6 L1126.5,521.7 L1107.4,516.5 Z" stroke-width="1.8" fill="#fff" />
<path d="M1106.5,500 L1126.5,508.6" stroke-width="1.5" fill="none" />
<path d="M1129,510 L1150.8,495" stroke-width="2.4" fill="none" />
<ellipse cx="1121.3" cy="500.8" rx="2.2" ry="3" transform="rotate(10 1121.3 500.8)" stroke-width="1.2" fill="none"/>
<ellipse cx="1136" cy="494.7" rx="2.6" ry="3" transform="rotate(0 1136 494.7)" stroke-width="1.2" fill="none"/>
<ellipse cx="1119.5" cy="514.7" rx="4.8" ry="4.8" transform="rotate(0 1119.5 514.7)" stroke-width="1.7" fill="none"/>
<ellipse cx="1119.5" cy="514.7" rx="2" ry="2" transform="rotate(0 1119.5 514.7)" stroke-width="1.1" fill="none"/>
<ellipse cx="1164.7" cy="497.3" rx="2.6" ry="4" transform="rotate(15 1164.7 497.3)" stroke-width="1.5" fill="none"/>
<ellipse cx="1179.5" cy="489.5" rx="2.6" ry="4" transform="rotate(15 1179.5 489.5)" stroke-width="1.5" fill="none"/>
<path d="M1056.9,450.1 L1039.9,444.6 L1038.1,450.4 L1055.1,455.9 Z" stroke-width="1.6" fill="#fff"/>
<line x1="1054.4" y1="449.3" x2="1051.1" y2="454.6" stroke-width="1.1"/>
<line x1="1052.0" y1="448.5" x2="1048.6" y2="453.8" stroke-width="1.1"/>
<line x1="1049.5" y1="447.7" x2="1046.1" y2="453.0" stroke-width="1.1"/>
<path d="M1044.8,449.1 L1040.6,453.6 L1034.8,452.0 L1033.2,445.9 L1037.4,441.4 L1043.2,443.0 Z" stroke-width="1.9" fill="#fff"/>
<ellipse cx="1039.0" cy="447.5" rx="2.7" ry="3.0" stroke-width="1.1" fill="none"/>
<path d="M1206.9,477.1 L1240.9,461.1 L1237.1,452.9 L1203.1,468.9 Z" stroke-width="1.6" fill="#fff"/>
<line x1="1209.3" y1="476.0" x2="1206.9" y2="467.1" stroke-width="1.1"/>
<line x1="1211.6" y1="474.9" x2="1209.2" y2="466.0" stroke-width="1.1"/>
<line x1="1214.0" y1="473.8" x2="1211.6" y2="464.9" stroke-width="1.1"/>
<line x1="1216.3" y1="472.6" x2="1213.9" y2="463.8" stroke-width="1.1"/>
<line x1="1218.7" y1="471.5" x2="1216.3" y2="462.7" stroke-width="1.1"/>
<line x1="1221.0" y1="470.4" x2="1218.6" y2="461.6" stroke-width="1.1"/>
<line x1="1223.4" y1="469.3" x2="1221.0" y2="460.5" stroke-width="1.1"/>
<path d="M1246.7,459.2 L1241.1,465.1 L1233.3,462.9 L1231.3,454.8 L1236.9,448.9 L1244.7,451.1 Z" stroke-width="1.9" fill="#fff"/>
<ellipse cx="1239.0" cy="457.0" rx="3.6" ry="4.0" stroke-width="1.1" fill="none"/>
<line x1="1196" y1="478" x2="1204" y2="474" stroke-width="1.2"/>
<path d="M1205.7,503.3 L1218.7,508.3 L1221.3,501.7 L1208.3,496.7 Z" stroke-width="1.6" fill="#fff"/>
<line x1="1208.2" y1="504.2" x2="1212.2" y2="498.2" stroke-width="1.1"/>
<line x1="1210.6" y1="505.1" x2="1214.6" y2="499.2" stroke-width="1.1"/>
<line x1="1213.0" y1="506.1" x2="1217.0" y2="500.1" stroke-width="1.1"/>
<ellipse cx="1220.0" cy="505.0" rx="5.2" ry="6.5" stroke-width="1.9" fill="#fff"/>
<path d="M1181.7,490 L1207,500" stroke-width="1.2" fill="none" />
<path d="M1113.4,544 L1089,576 L1040.8,590" stroke-width="1.3" fill="none" stroke-dasharray="40 4 3 4"/>
<path d="M554.9,440.9 L580.4,433.9 C585,433 588,434 589.6,436.2 L618.6,472.1 C621,476 622,480 622,484.9 L621,503.4 C620,506 615,507 611.6,506.9 L592,509.2 C585,509 580,505 576.9,501 L554.9,469.8 C552,465 551,460 551.4,454.8 L552,445 C552,443 553,441.5 554.9,440.9 Z" stroke-width="1.5" fill="#000" />
<ellipse cx="587.3" cy="472.1" rx="20.3" ry="30.7" transform="rotate(-22 587.3 472.1)" stroke-width="1.0" fill="#fff"/>
<ellipse cx="558.3" cy="457" rx="2" ry="4" transform="rotate(0 558.3 457)" stroke-width="0.8" fill="#fff"/>
<ellipse cx="614.5" cy="487.2" rx="2.5" ry="4" transform="rotate(0 614.5 487.2)" stroke-width="0.8" fill="#fff"/>
<circle cx="604.0" cy="504.0" r="0.7" fill="#fff" stroke="none"/>
<circle cx="618.9" cy="483.0" r="0.7" fill="#fff" stroke="none"/>
<circle cx="565.3" cy="449.6" r="0.7" fill="#fff" stroke="none"/>
<circle cx="609.8" cy="470.0" r="0.7" fill="#fff" stroke="none"/>
<circle cx="604.7" cy="498.1" r="0.7" fill="#fff" stroke="none"/>
<circle cx="608.2" cy="499.2" r="0.7" fill="#fff" stroke="none"/>
<circle cx="556.7" cy="459.2" r="0.7" fill="#fff" stroke="none"/>
<circle cx="594.6" cy="503.7" r="0.7" fill="#fff" stroke="none"/>
<circle cx="557.8" cy="466.5" r="0.7" fill="#fff" stroke="none"/>
<circle cx="556.5" cy="454.0" r="0.7" fill="#fff" stroke="none"/>
<circle cx="607.1" cy="499.8" r="0.7" fill="#fff" stroke="none"/>
<circle cx="568.3" cy="484.7" r="0.7" fill="#fff" stroke="none"/>
<circle cx="613.5" cy="486.0" r="0.7" fill="#fff" stroke="none"/>
<circle cx="592.4" cy="506.8" r="0.7" fill="#fff" stroke="none"/>
<circle cx="609.8" cy="465.3" r="0.7" fill="#fff" stroke="none"/>
<circle cx="607.1" cy="496.7" r="0.7" fill="#fff" stroke="none"/>
<circle cx="569.5" cy="444.9" r="0.7" fill="#fff" stroke="none"/>
<circle cx="614.8" cy="475.0" r="0.7" fill="#fff" stroke="none"/>
<circle cx="585.2" cy="503.2" r="0.7" fill="#fff" stroke="none"/>
<circle cx="597.1" cy="506.3" r="0.7" fill="#fff" stroke="none"/>
<circle cx="557.9" cy="462.2" r="0.7" fill="#fff" stroke="none"/>
<circle cx="586.9" cy="503.1" r="0.7" fill="#fff" stroke="none"/>
<circle cx="614.0" cy="470.0" r="0.7" fill="#fff" stroke="none"/>
<circle cx="619.5" cy="485.4" r="0.7" fill="#fff" stroke="none"/>
<circle cx="566.3" cy="441.9" r="0.7" fill="#fff" stroke="none"/>
<circle cx="610.7" cy="482.9" r="0.7" fill="#fff" stroke="none"/>
<circle cx="608.7" cy="466.4" r="0.7" fill="#fff" stroke="none"/>
<circle cx="612.2" cy="472.8" r="0.7" fill="#fff" stroke="none"/>
<circle cx="614.9" cy="470.0" r="0.7" fill="#fff" stroke="none"/>
<circle cx="584.3" cy="501.5" r="0.7" fill="#fff" stroke="none"/>
<circle cx="584.0" cy="440.7" r="0.7" fill="#fff" stroke="none"/>
<circle cx="561.3" cy="445.2" r="0.7" fill="#fff" stroke="none"/>
<circle cx="561.8" cy="455.1" r="0.7" fill="#fff" stroke="none"/>
<circle cx="561.9" cy="451.5" r="0.7" fill="#fff" stroke="none"/>
<circle cx="599.1" cy="505.4" r="0.7" fill="#fff" stroke="none"/>
<circle cx="579.9" cy="436.5" r="0.7" fill="#fff" stroke="none"/>
<circle cx="615.6" cy="470.8" r="0.7" fill="#fff" stroke="none"/>
<circle cx="579.0" cy="437.6" r="0.7" fill="#fff" stroke="none"/>
<circle cx="563.1" cy="472.2" r="0.7" fill="#fff" stroke="none"/>
<circle cx="556.2" cy="457.2" r="0.7" fill="#fff" stroke="none"/>
<circle cx="617.3" cy="479.1" r="0.7" fill="#fff" stroke="none"/>
<circle cx="603.0" cy="503.3" r="0.7" fill="#fff" stroke="none"/>
<circle cx="558.4" cy="457.0" r="0.7" fill="#fff" stroke="none"/>
<circle cx="564.6" cy="455.0" r="0.7" fill="#fff" stroke="none"/>
<circle cx="577.3" cy="440.6" r="0.7" fill="#fff" stroke="none"/>
<circle cx="615.4" cy="483.4" r="0.7" fill="#fff" stroke="none"/>
<circle cx="569.2" cy="485.0" r="0.7" fill="#fff" stroke="none"/>
<circle cx="559.5" cy="460.5" r="0.7" fill="#fff" stroke="none"/>
<circle cx="618.5" cy="494.2" r="0.7" fill="#fff" stroke="none"/>
<circle cx="558.6" cy="457.4" r="0.7" fill="#fff" stroke="none"/>
<circle cx="606.0" cy="505.1" r="0.7" fill="#fff" stroke="none"/>
<circle cx="609.4" cy="465.3" r="0.7" fill="#fff" stroke="none"/>
<circle cx="585.2" cy="500.9" r="0.7" fill="#fff" stroke="none"/>
<circle cx="612.0" cy="480.6" r="0.7" fill="#fff" stroke="none"/>
<circle cx="610.7" cy="470.7" r="0.7" fill="#fff" stroke="none"/>
<circle cx="563.5" cy="463.0" r="0.7" fill="#fff" stroke="none"/>
<circle cx="609.5" cy="504.1" r="0.7" fill="#fff" stroke="none"/>
<circle cx="570.7" cy="439.0" r="0.7" fill="#fff" stroke="none"/>
<circle cx="556.4" cy="460.4" r="0.7" fill="#fff" stroke="none"/>
<circle cx="616.4" cy="480.2" r="0.7" fill="#fff" stroke="none"/>
<circle cx="578.2" cy="441.4" r="0.7" fill="#fff" stroke="none"/>
<circle cx="610.6" cy="500.7" r="0.7" fill="#fff" stroke="none"/>
<circle cx="563.4" cy="447.7" r="0.7" fill="#fff" stroke="none"/>
<circle cx="597.1" cy="504.4" r="0.7" fill="#fff" stroke="none"/>
<circle cx="611.4" cy="469.7" r="0.7" fill="#fff" stroke="none"/>
<circle cx="557.4" cy="447.9" r="0.7" fill="#fff" stroke="none"/>
<circle cx="556.1" cy="464.0" r="0.7" fill="#fff" stroke="none"/>
<circle cx="571.6" cy="442.0" r="0.7" fill="#fff" stroke="none"/>
<circle cx="603.8" cy="503.7" r="0.7" fill="#fff" stroke="none"/>
<circle cx="611.9" cy="473.0" r="0.7" fill="#fff" stroke="none"/>
<circle cx="567.4" cy="484.3" r="0.7" fill="#fff" stroke="none"/>
<circle cx="555.4" cy="453.9" r="0.7" fill="#fff" stroke="none"/>
<circle cx="557.0" cy="469.8" r="0.7" fill="#fff" stroke="none"/>
<circle cx="556.7" cy="460.4" r="0.7" fill="#fff" stroke="none"/>
<circle cx="605.9" cy="460.8" r="0.7" fill="#fff" stroke="none"/>
<circle cx="556.2" cy="454.5" r="0.7" fill="#fff" stroke="none"/>
<circle cx="619.7" cy="485.9" r="0.7" fill="#fff" stroke="none"/>
<circle cx="615.9" cy="482.7" r="0.7" fill="#fff" stroke="none"/>
<circle cx="580.2" cy="500.3" r="0.7" fill="#fff" stroke="none"/>
<circle cx="610.3" cy="503.5" r="0.7" fill="#fff" stroke="none"/>
<circle cx="605.2" cy="501.7" r="0.7" fill="#fff" stroke="none"/>
<circle cx="562.4" cy="468.2" r="0.7" fill="#fff" stroke="none"/>
<circle cx="555.4" cy="462.4" r="0.7" fill="#fff" stroke="none"/>
<circle cx="615.5" cy="501.2" r="0.7" fill="#fff" stroke="none"/>
<circle cx="563.5" cy="466.0" r="0.7" fill="#fff" stroke="none"/>
<circle cx="561.1" cy="472.9" r="0.7" fill="#fff" stroke="none"/>
<circle cx="597.8" cy="504.2" r="0.7" fill="#fff" stroke="none"/>
<circle cx="602.1" cy="505.2" r="0.7" fill="#fff" stroke="none"/>
<circle cx="560.1" cy="460.0" r="0.7" fill="#fff" stroke="none"/>
<circle cx="610.2" cy="471.1" r="0.7" fill="#fff" stroke="none"/>
<circle cx="615.1" cy="488.5" r="0.7" fill="#fff" stroke="none"/>
<circle cx="561.3" cy="449.7" r="0.7" fill="#fff" stroke="none"/>
<circle cx="575.7" cy="439.1" r="0.7" fill="#fff" stroke="none"/>
<circle cx="560.1" cy="470.8" r="0.7" fill="#fff" stroke="none"/>
<circle cx="591.8" cy="503.2" r="0.7" fill="#fff" stroke="none"/>
<circle cx="560.6" cy="453.6" r="0.7" fill="#fff" stroke="none"/>
<circle cx="615.7" cy="475.8" r="0.7" fill="#fff" stroke="none"/>
<circle cx="607.3" cy="497.4" r="0.7" fill="#fff" stroke="none"/>
<circle cx="571.4" cy="441.3" r="0.7" fill="#fff" stroke="none"/>
<circle cx="611.6" cy="477.9" r="0.7" fill="#fff" stroke="none"/>
<circle cx="618.9" cy="493.9" r="0.7" fill="#fff" stroke="none"/>
<circle cx="615.4" cy="472.0" r="0.7" fill="#fff" stroke="none"/>
<circle cx="557.6" cy="465.0" r="0.7" fill="#fff" stroke="none"/>
<circle cx="584.0" cy="440.9" r="0.7" fill="#fff" stroke="none"/>
<circle cx="589.2" cy="439.4" r="0.7" fill="#fff" stroke="none"/>
<circle cx="587.6" cy="503.7" r="0.7" fill="#fff" stroke="none"/>
<circle cx="559.8" cy="448.6" r="0.7" fill="#fff" stroke="none"/>
<circle cx="559.7" cy="445.9" r="0.7" fill="#fff" stroke="none"/>
<circle cx="556.6" cy="467.4" r="0.7" fill="#fff" stroke="none"/>
<circle cx="612.3" cy="483.9" r="0.7" fill="#fff" stroke="none"/>
<path d="M558.1,484.3 L558.5,486.0 L557.2,487.6 L557.1,489.0 L558.5,491.0 L558.1,492.6 L556.2,493.0 L555.6,494.2 L556.0,496.6 L555.0,497.7 L553.1,496.9 L552.0,497.5 L551.4,499.7 L550.0,499.9 L548.6,498.1 L547.4,497.9 L545.9,499.3 L544.5,498.7 L543.9,496.3 L542.9,495.5 L540.9,495.7 L539.9,494.4 L540.4,492.1 L539.8,490.7 L537.9,489.7 L537.5,488.0 L538.8,486.4 L538.9,485.0 L537.5,483.0 L537.9,481.4 L539.8,481.0 L540.4,479.8 L540.0,477.4 L541.0,476.3 L542.9,477.1 L544.0,476.5 L544.6,474.3 L546.0,474.1 L547.4,475.9 L548.6,476.1 L550.1,474.7 L551.5,475.3 L552.1,477.7 L553.1,478.5 L555.1,478.3 L556.1,479.6 L555.6,481.9 L556.2,483.3 Z" stroke-width="1.7" fill="#fff" />
<path d="M527,477 L549,471 M527,505 L552,498" stroke-width="1.0" fill="none" />
<line x1="528" y1="478.5" x2="551" y2="473.0" stroke-width="1.4"/>
<line x1="528" y1="483.8" x2="551" y2="478.3" stroke-width="1.4"/>
<line x1="528" y1="489.1" x2="551" y2="483.6" stroke-width="1.4"/>
<line x1="528" y1="494.4" x2="551" y2="488.9" stroke-width="1.4"/>
<line x1="528" y1="499.7" x2="551" y2="494.2" stroke-width="1.4"/>
<line x1="528" y1="505.0" x2="551" y2="499.5" stroke-width="1.4"/>
<path d="M541.6,488.5 L542.0,490.2 L540.6,491.8 L540.6,493.2 L542.0,495.1 L541.6,496.7 L539.7,497.1 L539.1,498.2 L539.6,500.6 L538.6,501.7 L536.7,500.9 L535.6,501.4 L535.0,503.6 L533.7,503.9 L532.2,502.1 L531.1,501.9 L529.6,503.3 L528.3,502.7 L527.7,500.3 L526.7,499.5 L524.8,499.7 L523.8,498.4 L524.2,496.1 L523.6,494.8 L521.8,493.9 L521.4,492.2 L522.8,490.6 L522.8,489.2 L521.4,487.3 L521.8,485.7 L523.7,485.3 L524.3,484.2 L523.8,481.8 L524.8,480.7 L526.8,481.5 L527.8,481.0 L528.4,478.8 L529.7,478.5 L531.2,480.3 L532.3,480.5 L533.8,479.1 L535.1,479.7 L535.7,482.1 L536.7,482.9 L538.6,482.7 L539.6,484.0 L539.2,486.2 L539.8,487.6 Z" stroke-width="1.8" fill="#fff" />
<ellipse cx="532.5" cy="491" rx="5" ry="7" transform="rotate(-15 532.5 491)" stroke-width="2.6" fill="none"/>
<ellipse cx="512" cy="498.8" rx="6.2" ry="11" transform="rotate(-22 512 498.8)" stroke-width="2.2" fill="none"/>
<path d="M709.5,500 L710,537 L565.8,580.2 L567.6,612.7 L597.3,605.2" stroke-width="1.3" fill="none" stroke-dasharray="40 4 3 4"/>
<ellipse cx="589" cy="605.2" rx="3.5" ry="6" transform="rotate(15 589 605.2)" stroke-width="2.2" fill="none"/>
<path d="M599.0,605.3 L642.0,591.8 L640.0,585.2 L597.0,598.7 Z" stroke-width="1.6" fill="#fff"/>
<line x1="601.5" y1="604.6" x2="601.0" y2="597.4" stroke-width="1.1"/>
<line x1="604.0" y1="603.8" x2="603.4" y2="596.6" stroke-width="1.1"/>
<line x1="606.5" y1="603.0" x2="605.9" y2="595.8" stroke-width="1.1"/>
<line x1="609.0" y1="602.2" x2="608.4" y2="595.1" stroke-width="1.1"/>
<line x1="611.5" y1="601.4" x2="610.9" y2="594.3" stroke-width="1.1"/>
<line x1="613.9" y1="600.7" x2="613.4" y2="593.5" stroke-width="1.1"/>
<line x1="616.4" y1="599.9" x2="615.8" y2="592.7" stroke-width="1.1"/>
<line x1="618.9" y1="599.1" x2="618.3" y2="592.0" stroke-width="1.1"/>
<path d="M648.7,590.7 L643.1,596.6 L635.3,594.4 L633.3,586.3 L638.9,580.4 L646.7,582.6 Z" stroke-width="1.9" fill="#fff"/>
<ellipse cx="641.0" cy="588.5" rx="3.6" ry="4.0" stroke-width="1.1" fill="none"/>
<path d="M699.6,600.3 L718.6,585.3 L713.4,578.7 L694.4,593.7 Z" stroke-width="1.6" fill="#fff"/>
<line x1="701.7" y1="598.7" x2="697.7" y2="591.1" stroke-width="1.1"/>
<line x1="703.7" y1="597.1" x2="699.7" y2="589.5" stroke-width="1.1"/>
<line x1="705.8" y1="595.5" x2="701.7" y2="587.8" stroke-width="1.1"/>
<line x1="707.8" y1="593.9" x2="703.8" y2="586.2" stroke-width="1.1"/>
<line x1="709.8" y1="592.3" x2="705.8" y2="584.6" stroke-width="1.1"/>
<path d="M723.7,584.2 L718.1,590.1 L710.3,587.9 L708.3,579.8 L713.9,573.9 L721.7,576.1 Z" stroke-width="1.9" fill="#fff"/>
<ellipse cx="716.0" cy="582.0" rx="3.6" ry="4.0" stroke-width="1.1" fill="none"/>
<path d="M628,649.7 L698.4,597.8" stroke-width="1.2" fill="none" stroke-dasharray="16 4 3 4"/>
<path d="M594.5,653.5 L609.3,646 L626,651.6 L624.2,670 L615,677.6 L595.4,666.4 Z" stroke-width="1.8" fill="#fff" />
<path d="M594.5,653.5 L609,660 L626,651.6 M609,660 L609,676" stroke-width="1.4" fill="none" />
<path d="M616.8,660.9 L640.9,666.4 L641,676 L617,675 Z" stroke-width="1.7" fill="#fff" />
<ellipse cx="641" cy="671" rx="3.8" ry="5.5" transform="rotate(0 641 671)" stroke-width="1.8" fill="#fff"/>
<path d="M635,665 L635,676 M631,664 L631,676" stroke-width="1.0" fill="none" />
<path d="M583.4,672 L596,664 L602,680 L589,688 Z" stroke-width="1.5" fill="#fff" />
<line x1="585" y1="672.0" x2="589" y2="686.0" stroke-width="1.6"/>
<line x1="588" y1="670.5" x2="592" y2="684.5" stroke-width="1.6"/>
<line x1="591" y1="669.0" x2="595" y2="683.0" stroke-width="1.6"/>
<line x1="594" y1="667.5" x2="598" y2="681.5" stroke-width="1.6"/>
<line x1="597" y1="666.0" x2="601" y2="680.0" stroke-width="1.6"/>
<ellipse cx="599" cy="670" rx="5" ry="8.5" transform="rotate(-10 599 670)" stroke-width="1.8" fill="#fff"/>
<ellipse cx="571.3" cy="690.5" rx="5.5" ry="8.5" transform="rotate(40 571.3 690.5)" stroke-width="2.6" fill="none"/>
<line x1="558.3" y1="702.6" x2="566" y2="697" stroke-width="1.3"/>
<path d="M577,684 L583,680" stroke-width="1.2" fill="none" />
<ellipse cx="659.4" cy="677.6" rx="6.5" ry="9.5" transform="rotate(25 659.4 677.6)" stroke-width="2.6" fill="#fff"/>
<ellipse cx="660" cy="677.6" rx="3.5" ry="6" transform="rotate(25 660 677.6)" stroke-width="1.5" fill="none"/>
<circle cx="665.6" cy="677.6" r="1.2" fill="#000" stroke="none"/>
<circle cx="664.8" cy="682.1" r="1.2" fill="#000" stroke="none"/>
<circle cx="662.5" cy="685.4" r="1.2" fill="#000" stroke="none"/>
<circle cx="659.4" cy="686.6" r="1.2" fill="#000" stroke="none"/>
<circle cx="656.3" cy="685.4" r="1.2" fill="#000" stroke="none"/>
<circle cx="654.0" cy="682.1" r="1.2" fill="#000" stroke="none"/>
<circle cx="653.2" cy="677.6" r="1.2" fill="#000" stroke="none"/>
<circle cx="654.0" cy="673.1" r="1.2" fill="#000" stroke="none"/>
<circle cx="656.3" cy="669.8" r="1.2" fill="#000" stroke="none"/>
<circle cx="659.4" cy="668.6" r="1.2" fill="#000" stroke="none"/>
<circle cx="662.5" cy="669.8" r="1.2" fill="#000" stroke="none"/>
<circle cx="664.8" cy="673.1" r="1.2" fill="#000" stroke="none"/>
<path d="M646,672 L652,674 M668,680 L678,684" stroke-width="1.2" fill="none" />
<line x1="694.7" y1="635" x2="696.5" y2="681" stroke-width="1.2"/>
<line x1="698.4" y1="635" x2="699.5" y2="681" stroke-width="1.2"/>
<path d="M704,675.7 L724.3,666.4 L740,674.8 L745,690 L725,700 Z" stroke-width="1.3" fill="#fff" />
<path d="M706,678 L726,669" stroke-width="1.0" fill="none" />
<path d="M682,685 L734,703 C748,708 750,704 750,695 L750,674" stroke-width="14" fill="none" stroke-linecap="butt"/>
<path d="M682,678 Q676,685 682,692" stroke-width="1" fill="#000" />
<ellipse cx="682" cy="685" rx="3" ry="7" transform="rotate(15 682 685)" stroke-width="1" fill="#000"/>
<ellipse cx="750" cy="673" rx="7.5" ry="4.5" transform="rotate(0 750 673)" stroke-width="1.8" fill="#000"/>
<circle cx="688.0" cy="681.0" r="0.7" fill="#fff" stroke="none"/>
<circle cx="693.5" cy="682.9" r="0.7" fill="#fff" stroke="none"/>
<circle cx="699.0" cy="684.8" r="0.7" fill="#fff" stroke="none"/>
<circle cx="704.5" cy="686.7" r="0.7" fill="#fff" stroke="none"/>
<circle cx="710.0" cy="688.6" r="0.7" fill="#fff" stroke="none"/>
<circle cx="715.5" cy="690.5" r="0.7" fill="#fff" stroke="none"/>
<circle cx="721.0" cy="692.4" r="0.7" fill="#fff" stroke="none"/>
<circle cx="726.5" cy="694.3" r="0.7" fill="#fff" stroke="none"/>
<circle cx="732.0" cy="696.2" r="0.7" fill="#fff" stroke="none"/>
<line x1="749.4" y1="638.6" x2="749.4" y2="646" stroke-width="1.0"/>
<path d="M740,648 L740,657 C742,662 758,662 761,657 L761,648" stroke-width="1.8" fill="#fff" />
<ellipse cx="750.5" cy="648" rx="10.5" ry="4.2" transform="rotate(0 750.5 648)" stroke-width="2.0" fill="#fff"/>
<line x1="742.0" y1="651" x2="742.0" y2="659" stroke-width="1.0"/>
<line x1="744.2" y1="651" x2="744.2" y2="659" stroke-width="1.0"/>
<line x1="746.4" y1="651" x2="746.4" y2="659" stroke-width="1.0"/>
<line x1="748.6" y1="651" x2="748.6" y2="659" stroke-width="1.0"/>
<line x1="750.8" y1="651" x2="750.8" y2="659" stroke-width="1.0"/>
<line x1="753.0" y1="651" x2="753.0" y2="659" stroke-width="1.0"/>
<line x1="755.2" y1="651" x2="755.2" y2="659" stroke-width="1.0"/>
<line x1="757.4" y1="651" x2="757.4" y2="659" stroke-width="1.0"/>
<line x1="759.6" y1="651" x2="759.6" y2="659" stroke-width="1.0"/>
<ellipse cx="764" cy="655" rx="3" ry="3" transform="rotate(0 764 655)" stroke-width="1.4" fill="none"/>
<path d="M744,612 L754,612 L754,632 Q749,636 744,632 Z" stroke-width="1.7" fill="#fff" />
<path d="M744,627 L754,627" stroke-width="1.0" fill="none" />
<path d="M759.6,586 L781.8,588 L781.8,596 L760,600 Z" stroke-width="1.6" fill="#fff" />
<line x1="766.0" y1="586.5" x2="766.0" y2="597" stroke-width="1.5"/>
<line x1="769.3" y1="586.5" x2="769.3" y2="597" stroke-width="1.5"/>
<line x1="772.6" y1="586.5" x2="772.6" y2="597" stroke-width="1.5"/>
<line x1="775.9" y1="586.5" x2="775.9" y2="597" stroke-width="1.5"/>
<line x1="779.2" y1="586.5" x2="779.2" y2="597" stroke-width="1.5"/>
<ellipse cx="764" cy="593" rx="4.5" ry="7.5" transform="rotate(0 764 593)" stroke-width="1.9" fill="#fff"/>
<path d="M737.3,591.3 L752.2,585.8 L767,594 L767,609 L752,615.4 L738.2,610 Z" stroke-width="1.9" fill="#fff" />
<path d="M737.3,591.3 L754,599.7 L767,594 M754,599.7 L752,615.4" stroke-width="1.4" fill="none" />
<ellipse cx="791" cy="583" rx="4.5" ry="7.5" transform="rotate(25 791 583)" stroke-width="2.2" fill="none"/>
<path d="M797,580 L829.2,567" stroke-width="1.3" fill="none" />
<path d="M812.5,600 L813.6,660 C815,668 823,675 830,678 C840,683 865,684 879.3,676.6 C886,672 889,667 889.8,662 L892.5,600 Z" stroke-width="1.9" fill="#fff" />
<ellipse cx="852.2" cy="599.3" rx="40.5" ry="23" transform="rotate(3 852.2 599.3)" stroke-width="1.9" fill="#fff"/>
<path d="M812,606 C815,619 840,624 852,624 C870,624 890,618 892.5,606" stroke-width="1.3" fill="none" />
<ellipse cx="854" cy="597.5" rx="34" ry="19.5" transform="rotate(3 854 597.5)" stroke-width="3.0" fill="none"/>
<ellipse cx="854" cy="597.5" rx="29" ry="16" transform="rotate(3 854 597.5)" stroke-width="1.0" fill="none"/>
<ellipse cx="853.2" cy="594" rx="7.5" ry="6" transform="rotate(0 853.2 594)" stroke-width="1.6" fill="#000"/>
<ellipse cx="853.2" cy="594" rx="4" ry="3" transform="rotate(0 853.2 594)" stroke-width="1" fill="#fff"/>
<ellipse cx="834" cy="594" rx="3.2" ry="2.2" transform="rotate(0 834 594)" stroke-width="1.3" fill="none"/>
<ellipse cx="840" cy="603" rx="3.2" ry="2.2" transform="rotate(0 840 603)" stroke-width="1.3" fill="none"/>
<ellipse cx="853" cy="607" rx="3.2" ry="2.2" transform="rotate(0 853 607)" stroke-width="1.3" fill="none"/>
<ellipse cx="866" cy="602" rx="3.2" ry="2.2" transform="rotate(0 866 602)" stroke-width="1.3" fill="none"/>
<ellipse cx="872" cy="593" rx="3.2" ry="2.2" transform="rotate(0 872 593)" stroke-width="1.3" fill="none"/>
<ellipse cx="865" cy="584" rx="3.2" ry="2.2" transform="rotate(0 865 584)" stroke-width="1.3" fill="none"/>
<ellipse cx="852" cy="582" rx="3.2" ry="2.2" transform="rotate(0 852 582)" stroke-width="1.3" fill="none"/>
<ellipse cx="839" cy="584" rx="3.2" ry="2.2" transform="rotate(0 839 584)" stroke-width="1.3" fill="none"/>
<path d="M839.7,662 L887.7,653.6 L887.7,666 L840.7,672.4 Z" stroke-width="1.3" fill="none" />
<ellipse cx="852.2" cy="684" rx="6" ry="3" transform="rotate(0 852.2 684)" stroke-width="1.6" fill="none"/>
<path d="M871.5,534 C875,531 879,530.5 882.8,531 C888,533 892,537 893.2,541 C895,546 896,550 895.8,554 C895.5,558 894.5,561 893.2,562 L884.5,565.4 L872,560 Z" stroke-width="2.0" fill="#fff" />
<path d="M875.8,535 L887,542.8" stroke-width="1.3" fill="none" />
<path d="M828.9,545.4 L862.8,532 L887,542.8 L887,562 L853.2,575.8 L851.5,555.8 Z" stroke-width="2.0" fill="#fff" />
<path d="M828.9,545.4 L851.5,555.8 L887,542.8" stroke-width="1.6" fill="none" />
<path d="M860.5,542.8 L860.5,570 Q865.4,573 870.3,570 L870.3,542.8" stroke-width="1.8" fill="#fff" />
<ellipse cx="865.4" cy="542.8" rx="4.9" ry="2.5" transform="rotate(0 865.4 542.8)" stroke-width="1.8" fill="#fff"/>
<path d="M839,533.2 L839,540 Q843.7,543 848.4,540 L848.4,533.2" stroke-width="1.8" fill="#fff" />
<ellipse cx="843.7" cy="533.2" rx="4.7" ry="2.6" transform="rotate(0 843.7 533.2)" stroke-width="1.8" fill="#fff"/>
<path d="M822.8,571.5 L822.8,557 C823,551 827,548.5 832.4,548.9 C840,549 847,553 849.8,558.4 C852,565 852.4,575 852.4,581 L841,582.8 Z" stroke-width="2.0" fill="#fff" />
<path d="M836,550 C842,553 846,559 847,566 L848,580" stroke-width="1.2" fill="none" />
<ellipse cx="831.5" cy="566.3" rx="5" ry="6.3" transform="rotate(-10 831.5 566.3)" stroke-width="3.0" fill="#fff"/>
<circle cx="831.5" cy="566.3" r="2.2" fill="#000" stroke="none"/>
<path d="M895,539.8 L920,529.4 L938,522" stroke-width="1.3" fill="none" />
<path d="M800,580.5 L829.2,567" stroke-width="1.3" fill="none" />
<path d="M891.9,633.8 L920,626.5" stroke-width="1.3" fill="none" stroke-dasharray="12 3 2 3"/>
<line x1="800" y1="664" x2="812.5" y2="658.8" stroke-width="1.3"/>
<path d="M880,459.7 L912.4,476" stroke-width="1.3" fill="none" stroke-dasharray="14 4 3 4"/>
<ellipse cx="917.7" cy="478.8" rx="4.5" ry="8.2" transform="rotate(22 917.7 478.8)" stroke-width="2.6" fill="none"/>
<path d="M922.5,483.2 L937.5,499.2 L944.5,492.8 L929.5,476.8 Z" stroke-width="1.6" fill="#fff"/>
<line x1="924.3" y1="485.1" x2="932.3" y2="479.8" stroke-width="1.1"/>
<line x1="926.1" y1="487.0" x2="934.1" y2="481.7" stroke-width="1.1"/>
<line x1="927.9" y1="488.9" x2="935.9" y2="483.6" stroke-width="1.1"/>
<line x1="929.6" y1="490.8" x2="937.7" y2="485.5" stroke-width="1.1"/>
<line x1="931.4" y1="492.7" x2="939.5" y2="487.4" stroke-width="1.1"/>
<line x1="933.2" y1="494.6" x2="941.2" y2="489.3" stroke-width="1.1"/>
<line x1="935.0" y1="496.5" x2="943.0" y2="491.2" stroke-width="1.1"/>
<ellipse cx="926.5" cy="480.5" rx="3" ry="4.8" transform="rotate(-45 926.5 480.5)" stroke-width="1.6" fill="#fff"/>
<path d="M948,485 L962,496 L962,507 L952,503 Z" stroke-width="1.6" fill="#fff" />
<ellipse cx="942" cy="491" rx="6" ry="10.5" transform="rotate(-40 942 491)" stroke-width="1.9" fill="#fff"/>
<ellipse cx="947" cy="496" rx="6" ry="10.5" transform="rotate(-40 947 496)" stroke-width="1.9" fill="#fff"/>
<path d="M944,487 L949,499" stroke-width="1.0" fill="none" />
<path d="M961,497 L975.8,491.8 L990.8,503.3 L990.8,513.8 L978.8,521.3 L962,510 Z" stroke-width="1.9" fill="#fff" />
<path d="M961,497 L977.3,507.8 L990.8,503.3 M977.3,507.8 L978.8,521.3" stroke-width="1.4" fill="none" />
<ellipse cx="957.7" cy="515.3" rx="10.5" ry="10.5" transform="rotate(0 957.7 515.3)" stroke-width="2.0" fill="#fff"/>
<ellipse cx="953.5" cy="515.3" rx="5.8" ry="6" transform="rotate(0 953.5 515.3)" stroke-width="2.4" fill="#000"/>
<path d="M951,512 L956,518 M955,511 L951,519" stroke-width="0.9" fill="none" stroke="#fff"/>
<ellipse cx="929.2" cy="525.2" rx="5.2" ry="8.5" transform="rotate(22 929.2 525.2)" stroke-width="2.6" fill="none"/>
<path d="M895,539.6 L924,528 M934,523 L947.2,518.8" stroke-width="1.3" fill="none" />
<rect x="577.3" y="134.0" width="3.4" height="13.0" fill="#000" stroke="none"/>
<text transform="translate(613.29,147.00) scale(1.098,1)" font-size="18.57">2</text>
<text transform="translate(643.29,147.00) scale(1.098,1)" font-size="18.57">3</text>
<text transform="translate(664.29,147.00) scale(1.098,1)" font-size="18.57">4</text>
<text transform="translate(680.29,147.00) scale(1.098,1)" font-size="18.57">5</text>
<text transform="translate(700.29,147.00) scale(1.098,1)" font-size="18.57">6</text>
<text transform="translate(719.29,147.00) scale(1.098,1)" font-size="18.57">7</text>
<text transform="translate(741.29,147.00) scale(1.098,1)" font-size="18.57">8</text>
<rect x="761.2" y="134.0" width="3.4" height="13.0" fill="#000" stroke="none"/>
<text transform="translate(765.99,147.00) scale(1.098,1)" font-size="18.57">0</text>
<rect x="782.6" y="134.0" width="3.4" height="13.0" fill="#000" stroke="none"/>
<rect x="788.0" y="134.0" width="3.4" height="13.0" fill="#000" stroke="none"/>
<rect x="805.2" y="134.0" width="3.4" height="13.0" fill="#000" stroke="none"/>
<text transform="translate(809.99,147.00) scale(1.098,1)" font-size="18.57">2</text>
<rect x="861.2" y="133.0" width="3.4" height="13.0" fill="#000" stroke="none"/>
<text transform="translate(865.99,146.00) scale(1.098,1)" font-size="18.57">3</text>
<rect x="914.2" y="133.0" width="3.4" height="13.0" fill="#000" stroke="none"/>
<text transform="translate(918.99,146.00) scale(1.098,1)" font-size="18.57">4</text>
<rect x="939.7" y="133.0" width="3.4" height="13.0" fill="#000" stroke="none"/>
<text transform="translate(944.49,146.00) scale(1.098,1)" font-size="18.57">5</text>
<rect x="966.7" y="133.0" width="3.4" height="13.0" fill="#000" stroke="none"/>
<text transform="translate(971.49,146.00) scale(1.098,1)" font-size="18.57">6</text>
<rect x="1004.2" y="133.0" width="3.4" height="13.0" fill="#000" stroke="none"/>
<text transform="translate(1008.99,146.00) scale(1.098,1)" font-size="18.57">7</text>
<rect x="1056.2" y="133.0" width="3.4" height="13.0" fill="#000" stroke="none"/>
<text transform="translate(1060.99,146.00) scale(1.098,1)" font-size="18.57">8</text>
<rect x="1090.7" y="133.0" width="3.4" height="13.0" fill="#000" stroke="none"/>
<text transform="translate(1095.49,146.00) scale(1.098,1)" font-size="18.57">9</text>
<text transform="translate(1159.69,144.00) scale(1.098,1)" font-size="18.57">2</text>
<text transform="translate(1171.89,144.00) scale(1.098,1)" font-size="18.57">0</text>
<text transform="translate(1223.09,144.00) scale(1.098,1)" font-size="18.57">2</text>
<rect x="1235.9" y="131.0" width="3.4" height="13.0" fill="#000" stroke="none"/>
<text transform="translate(729.29,219.00) scale(1.098,1)" font-size="18.57">9</text>
<text transform="translate(524.69,204.00) scale(1.098,1)" font-size="18.57">5</text>
<text transform="translate(536.89,204.00) scale(1.098,1)" font-size="18.57">6</text>
<text transform="translate(474.69,221.00) scale(1.098,1)" font-size="18.57">5</text>
<text transform="translate(486.89,221.00) scale(1.098,1)" font-size="18.57">5</text>
<text transform="translate(805.69,241.00) scale(1.098,1)" font-size="18.57">5</text>
<text transform="translate(817.89,241.00) scale(1.098,1)" font-size="18.57">8</text>
<text transform="translate(862.19,265.00) scale(1.098,1)" font-size="18.57">5</text>
<text transform="translate(874.39,265.00) scale(1.098,1)" font-size="18.57">9</text>
<text transform="translate(732.19,317.00) scale(1.098,1)" font-size="18.57">5</text>
<text transform="translate(744.39,317.00) scale(1.098,1)" font-size="18.57">7</text>
<text transform="translate(372.19,309.50) scale(1.098,1)" font-size="18.57">5</text>
<text transform="translate(384.39,309.50) scale(1.098,1)" font-size="18.57">4</text>
<text transform="translate(375.19,334.60) scale(1.098,1)" font-size="18.57">5</text>
<text transform="translate(387.39,334.60) scale(1.098,1)" font-size="18.57">3</text>
<text transform="translate(374.19,357.00) scale(1.098,1)" font-size="18.57">5</text>
<text transform="translate(386.39,357.00) scale(1.098,1)" font-size="18.57">2</text>
<text transform="translate(381.59,384.00) scale(1.098,1)" font-size="18.57">5</text>
<rect x="394.4" y="371.0" width="3.4" height="13.0" fill="#000" stroke="none"/>
<text transform="translate(373.19,405.00) scale(1.098,1)" font-size="18.57">5</text>
<text transform="translate(385.39,405.00) scale(1.098,1)" font-size="18.57">0</text>
<text transform="translate(503.19,378.50) scale(1.098,1)" font-size="18.57">4</text>
<text transform="translate(515.39,378.50) scale(1.098,1)" font-size="18.57">9</text>
<text transform="translate(544.19,382.00) scale(1.098,1)" font-size="18.57">4</text>
<text transform="translate(556.39,382.00) scale(1.098,1)" font-size="18.57">8</text>
<text transform="translate(521.69,419.00) scale(1.098,1)" font-size="18.57">4</text>
<text transform="translate(533.89,419.00) scale(1.098,1)" font-size="18.57">7</text>
<text transform="translate(624.19,406.00) scale(1.098,1)" font-size="18.57">4</text>
<text transform="translate(636.39,406.00) scale(1.098,1)" font-size="18.57">6</text>
<rect x="933.2" y="426.0" width="3.4" height="13.0" fill="#000" stroke="none"/>
<text transform="translate(937.99,439.00) scale(1.098,1)" font-size="18.57">9</text>
<text transform="translate(1080.19,413.40) scale(1.098,1)" font-size="18.57">2</text>
<text transform="translate(1092.39,413.40) scale(1.098,1)" font-size="18.57">3</text>
<text transform="translate(1107.09,405.70) scale(1.098,1)" font-size="18.57">2</text>
<rect x="1119.9" y="392.7" width="3.4" height="13.0" fill="#000" stroke="none"/>
<text transform="translate(1326.19,384.60) scale(1.098,1)" font-size="18.57">2</text>
<text transform="translate(1338.39,384.60) scale(1.098,1)" font-size="18.57">2</text>
<text transform="translate(1309.19,408.70) scale(1.098,1)" font-size="18.57">2</text>
<text transform="translate(1321.39,408.70) scale(1.098,1)" font-size="18.57">3</text>
<text transform="translate(1279.69,447.40) scale(1.098,1)" font-size="18.57">2</text>
<text transform="translate(1291.89,447.40) scale(1.098,1)" font-size="18.57">5</text>
<text transform="translate(982.69,458.00) scale(1.098,1)" font-size="18.57">2</text>
<text transform="translate(994.89,458.00) scale(1.098,1)" font-size="18.57">7</text>
<rect x="1020.2" y="481.5" width="3.4" height="13.0" fill="#000" stroke="none"/>
<text transform="translate(1024.99,494.50) scale(1.098,1)" font-size="18.57">0</text>
<text transform="translate(1120.19,577.00) scale(1.098,1)" font-size="18.57">2</text>
<text transform="translate(1132.39,577.00) scale(1.098,1)" font-size="18.57">9</text>
<text transform="translate(1155.19,568.00) scale(1.098,1)" font-size="18.57">2</text>
<text transform="translate(1167.39,568.00) scale(1.098,1)" font-size="18.57">8</text>
<text transform="translate(1212.19,558.00) scale(1.098,1)" font-size="18.57">2</text>
<text transform="translate(1224.39,558.00) scale(1.098,1)" font-size="18.57">6</text>
<text transform="translate(943.19,468.00) scale(1.098,1)" font-size="18.57">3</text>
<text transform="translate(955.39,468.00) scale(1.098,1)" font-size="18.57">0</text>
<text transform="translate(980.59,565.60) scale(1.098,1)" font-size="18.57">3</text>
<rect x="993.4" y="552.6" width="3.4" height="13.0" fill="#000" stroke="none"/>
<text transform="translate(952.69,579.00) scale(1.098,1)" font-size="18.57">3</text>
<text transform="translate(964.89,579.00) scale(1.098,1)" font-size="18.57">2</text>
<text transform="translate(766.19,544.00) scale(1.098,1)" font-size="18.57">3</text>
<text transform="translate(778.39,544.00) scale(1.098,1)" font-size="18.57">2</text>
<text transform="translate(772.79,646.60) scale(1.098,1)" font-size="18.57">3</text>
<text transform="translate(784.99,646.60) scale(1.098,1)" font-size="18.57">5</text>
<text transform="translate(706.59,646.60) scale(1.098,1)" font-size="18.57">4</text>
<rect x="719.4" y="633.6" width="3.4" height="13.0" fill="#000" stroke="none"/>
<text transform="translate(631.19,628.40) scale(1.098,1)" font-size="18.57">3</text>
<text transform="translate(643.39,628.40) scale(1.098,1)" font-size="18.57">8</text>
<text transform="translate(670.79,630.00) scale(1.098,1)" font-size="18.57">3</text>
<text transform="translate(682.99,630.00) scale(1.098,1)" font-size="18.57">6</text>
<text transform="translate(788.19,699.50) scale(1.098,1)" font-size="18.57">3</text>
<text transform="translate(800.39,699.50) scale(1.098,1)" font-size="18.57">6</text>
<text transform="translate(544.19,660.00) scale(1.098,1)" font-size="18.57">3</text>
<text transform="translate(556.39,660.00) scale(1.098,1)" font-size="18.57">2</text>
<text transform="translate(373.69,467.00) scale(1.098,1)" font-size="18.57">4</text>
<text transform="translate(385.89,467.00) scale(1.098,1)" font-size="18.57">5</text>
<text transform="translate(373.69,492.00) scale(1.098,1)" font-size="18.57">4</text>
<text transform="translate(385.89,492.00) scale(1.098,1)" font-size="18.57">4</text>
<text transform="translate(375.19,531.00) scale(1.098,1)" font-size="18.57">4</text>
<text transform="translate(387.39,531.00) scale(1.098,1)" font-size="18.57">3</text>
<text transform="translate(376.69,603.00) scale(1.098,1)" font-size="18.57">4</text>
<text transform="translate(388.89,603.00) scale(1.098,1)" font-size="18.57">2</text>
<text transform="translate(560.69,785.00) scale(1.098,1)" font-size="18.57">4</text>
<text transform="translate(572.89,785.00) scale(1.098,1)" font-size="18.57">0</text>
<text transform="translate(599.69,785.00) scale(1.098,1)" font-size="18.57">3</text>
<text transform="translate(611.89,785.00) scale(1.098,1)" font-size="18.57">9</text>
<text transform="translate(1029.19,653.00) scale(1.098,1)" font-size="18.57">3</text>
<text transform="translate(1041.39,653.00) scale(1.098,1)" font-size="18.57">3</text>
<text transform="translate(975.19,784.50) scale(1.098,1)" font-size="18.57">3</text>
<text transform="translate(987.39,784.50) scale(1.098,1)" font-size="18.57">4</text>
<text transform="translate(736.69,759.50) scale(1.098,1)" font-size="18.57">3</text>
<text transform="translate(748.89,759.50) scale(1.098,1)" font-size="18.57">7</text>
<line x1="580" y1="151" x2="592" y2="185" stroke-width="1.5"/>
<circle cx="592" cy="185" r="1.7" fill="#000" stroke="none"/>
<line x1="618" y1="152" x2="607" y2="216" stroke-width="1.5"/>
<circle cx="607" cy="216" r="1.7" fill="#000" stroke="none"/>
<line x1="648" y1="151" x2="627" y2="259" stroke-width="1.5"/>
<circle cx="627" cy="259" r="1.7" fill="#000" stroke="none"/>
<line x1="670" y1="152" x2="645" y2="273" stroke-width="1.5"/>
<circle cx="645" cy="273" r="1.7" fill="#000" stroke="none"/>
<line x1="686" y1="152" x2="662" y2="277" stroke-width="1.5"/>
<circle cx="662" cy="277" r="1.7" fill="#000" stroke="none"/>
<line x1="706" y1="152" x2="675" y2="265" stroke-width="1.5"/>
<circle cx="675" cy="265" r="1.7" fill="#000" stroke="none"/>
<line x1="724" y1="151" x2="691" y2="261" stroke-width="1.5"/>
<circle cx="691" cy="261" r="1.7" fill="#000" stroke="none"/>
<line x1="748" y1="151" x2="688" y2="311" stroke-width="1.5"/>
<circle cx="688" cy="311" r="1.7" fill="#000" stroke="none"/>
<line x1="770" y1="150" x2="706" y2="326" stroke-width="1.5"/>
<circle cx="706" cy="326" r="1.7" fill="#000" stroke="none"/>
<line x1="788" y1="151" x2="724" y2="315" stroke-width="1.5"/>
<circle cx="724" cy="315" r="1.7" fill="#000" stroke="none"/>
<line x1="812" y1="152" x2="781" y2="262" stroke-width="1.5"/>
<circle cx="781" cy="262" r="1.7" fill="#000" stroke="none"/>
<line x1="867" y1="151" x2="837" y2="272" stroke-width="1.5"/>
<circle cx="837" cy="272" r="1.7" fill="#000" stroke="none"/>
<line x1="922" y1="150" x2="893" y2="340" stroke-width="1.5"/>
<circle cx="893" cy="340" r="1.7" fill="#000" stroke="none"/>
<line x1="947" y1="150" x2="924" y2="318" stroke-width="1.5"/>
<circle cx="924" cy="318" r="1.7" fill="#000" stroke="none"/>
<line x1="972" y1="150" x2="942" y2="350" stroke-width="1.5"/>
<circle cx="942" cy="350" r="1.7" fill="#000" stroke="none"/>
<line x1="1010" y1="150" x2="990" y2="294" stroke-width="1.5"/>
<circle cx="990" cy="294" r="1.7" fill="#000" stroke="none"/>
<line x1="1062" y1="150" x2="1037" y2="280" stroke-width="1.5"/>
<circle cx="1037" cy="280" r="1.7" fill="#000" stroke="none"/>
<line x1="1097" y1="149" x2="1083" y2="262" stroke-width="1.5"/>
<circle cx="1083" cy="262" r="1.7" fill="#000" stroke="none"/>
<line x1="1171.5" y1="150" x2="1178" y2="227" stroke-width="1.5"/>
<circle cx="1178" cy="227" r="1.7" fill="#000" stroke="none"/>
<line x1="1232" y1="147" x2="1230" y2="177" stroke-width="1.5"/>
<circle cx="1230" cy="177" r="1.7" fill="#000" stroke="none"/>
<line x1="542" y1="207" x2="591" y2="246" stroke-width="1.5"/>
<circle cx="591" cy="246" r="1.7" fill="#000" stroke="none"/>
<line x1="489" y1="225" x2="532" y2="296" stroke-width="1.5"/>
<circle cx="532" cy="296" r="1.7" fill="#000" stroke="none"/>
<line x1="731" y1="224" x2="724" y2="249" stroke-width="1.5"/>
<circle cx="724" cy="249" r="1.7" fill="#000" stroke="none"/>
<line x1="400" y1="305" x2="457" y2="297" stroke-width="1.5"/>
<circle cx="457" cy="297" r="1.7" fill="#000" stroke="none"/>
<line x1="401" y1="328" x2="476" y2="310" stroke-width="1.5"/>
<circle cx="476" cy="310" r="1.7" fill="#000" stroke="none"/>
<line x1="400" y1="353" x2="566" y2="314" stroke-width="1.5"/>
<circle cx="566" cy="314" r="1.7" fill="#000" stroke="none"/>
<line x1="400" y1="377" x2="531" y2="336" stroke-width="1.5"/>
<circle cx="531" cy="336" r="1.7" fill="#000" stroke="none"/>
<line x1="400" y1="395" x2="585" y2="323" stroke-width="1.5"/>
<circle cx="585" cy="323" r="1.7" fill="#000" stroke="none"/>
<line x1="532" y1="366" x2="592" y2="332" stroke-width="1.5"/>
<circle cx="592" cy="332" r="1.7" fill="#000" stroke="none"/>
<line x1="568" y1="368" x2="596" y2="343" stroke-width="1.5"/>
<circle cx="596" cy="343" r="1.7" fill="#000" stroke="none"/>
<line x1="550" y1="409" x2="587" y2="380" stroke-width="1.5"/>
<circle cx="587" cy="380" r="1.7" fill="#000" stroke="none"/>
<line x1="1087" y1="396" x2="1061" y2="376" stroke-width="1.5"/>
<circle cx="1061" cy="376" r="1.7" fill="#000" stroke="none"/>
<line x1="1113" y1="389" x2="1081" y2="367" stroke-width="1.5"/>
<circle cx="1081" cy="367" r="1.7" fill="#000" stroke="none"/>
<line x1="1327" y1="369" x2="1212" y2="277" stroke-width="1.5"/>
<circle cx="1212" cy="277" r="1.7" fill="#000" stroke="none"/>
<line x1="1309" y1="394" x2="1207" y2="309" stroke-width="1.5"/>
<circle cx="1207" cy="309" r="1.7" fill="#000" stroke="none"/>
<line x1="1285" y1="429" x2="1175" y2="328" stroke-width="1.5"/>
<circle cx="1175" cy="328" r="1.7" fill="#000" stroke="none"/>
<line x1="1031" y1="637" x2="898" y2="559" stroke-width="1.5"/>
<circle cx="898" cy="559" r="1.7" fill="#000" stroke="none"/>
<line x1="978" y1="767" x2="893" y2="649" stroke-width="1.5"/>
<circle cx="893" cy="649" r="1.7" fill="#000" stroke="none"/>
<line x1="746" y1="739" x2="731" y2="714" stroke-width="1.5"/>
<circle cx="731" cy="714" r="1.7" fill="#000" stroke="none"/>
<line x1="1222" y1="540" x2="1221" y2="512" stroke-width="1.5"/>
<circle cx="1221" cy="512" r="1.7" fill="#000" stroke="none"/>
<line x1="1166" y1="552" x2="1163" y2="528" stroke-width="1.5"/>
<circle cx="1163" cy="528" r="1.7" fill="#000" stroke="none"/>
<line x1="1130" y1="561" x2="1123" y2="527" stroke-width="1.5"/>
<circle cx="1123" cy="527" r="1.7" fill="#000" stroke="none"/>
<line x1="1040" y1="486" x2="1083" y2="482" stroke-width="1.5"/>
<circle cx="1083" cy="482" r="1.7" fill="#000" stroke="none"/>
<line x1="1006" y1="451" x2="1031" y2="451" stroke-width="1.5"/>
<circle cx="1031" cy="451" r="1.7" fill="#000" stroke="none"/>
<line x1="943" y1="465" x2="923" y2="473" stroke-width="1.5"/>
<circle cx="923" cy="473" r="1.7" fill="#000" stroke="none"/>
<line x1="986" y1="551" x2="983" y2="521" stroke-width="1.5"/>
<circle cx="983" cy="521" r="1.7" fill="#000" stroke="none"/>
<line x1="960" y1="557" x2="938" y2="536" stroke-width="1.5"/>
<circle cx="938" cy="536" r="1.7" fill="#000" stroke="none"/>
<line x1="785" y1="546" x2="786" y2="572" stroke-width="1.5"/>
<circle cx="786" cy="572" r="1.7" fill="#000" stroke="none"/>
<line x1="784" y1="632" x2="765" y2="617" stroke-width="1.5"/>
<circle cx="765" cy="617" r="1.7" fill="#000" stroke="none"/>
<line x1="717" y1="632" x2="709" y2="600" stroke-width="1.5"/>
<circle cx="709" cy="600" r="1.7" fill="#000" stroke="none"/>
<line x1="636" y1="630" x2="628" y2="648" stroke-width="1.5"/>
<circle cx="628" cy="648" r="1.7" fill="#000" stroke="none"/>
<line x1="679" y1="632" x2="667" y2="665" stroke-width="1.5"/>
<circle cx="667" cy="665" r="1.7" fill="#000" stroke="none"/>
<line x1="790" y1="685" x2="761" y2="655" stroke-width="1.5"/>
<circle cx="761" cy="655" r="1.7" fill="#000" stroke="none"/>
<line x1="558" y1="661" x2="563" y2="678" stroke-width="1.5"/>
<circle cx="563" cy="678" r="1.7" fill="#000" stroke="none"/>
<line x1="400" y1="457" x2="549" y2="454" stroke-width="1.5"/>
<circle cx="549" cy="454" r="1.7" fill="#000" stroke="none"/>
<line x1="400" y1="483" x2="522" y2="479" stroke-width="1.5"/>
<circle cx="522" cy="479" r="1.7" fill="#000" stroke="none"/>
<line x1="400" y1="523" x2="505" y2="501" stroke-width="1.5"/>
<circle cx="505" cy="501" r="1.7" fill="#000" stroke="none"/>
<line x1="401" y1="594" x2="690" y2="488" stroke-width="1.5"/>
<circle cx="690" cy="488" r="1.7" fill="#000" stroke="none"/>
<line x1="575" y1="771" x2="589" y2="612" stroke-width="1.5"/>
<circle cx="589" cy="612" r="1.7" fill="#000" stroke="none"/>
<line x1="619" y1="771" x2="609" y2="604" stroke-width="1.5"/>
<circle cx="609" cy="604" r="1.7" fill="#000" stroke="none"/>
<line x1="941" y1="426" x2="928" y2="414" stroke-width="1.5"/>
<circle cx="928" cy="414" r="1.7" fill="#000" stroke="none"/>
<line x1="817" y1="243" x2="809" y2="271.5" stroke-width="1.5"/>
<circle cx="809" cy="271.5" r="1.7" fill="#000" stroke="none"/>
<line x1="873" y1="268" x2="855.4" y2="305.3" stroke-width="1.5"/>
<circle cx="855.4" cy="305.3" r="1.7" fill="#000" stroke="none"/>
<line x1="755" y1="310.4" x2="763.6" y2="312.3" stroke-width="1.5"/>
<circle cx="763.6" cy="312.3" r="1.7" fill="#000" stroke="none"/>
<path d="M950.4,380.7 L1016,561.5 L1119,514" stroke-width="1.3" fill="none" stroke-dasharray="40 4 3 4"/>
</g></svg></body></html>
